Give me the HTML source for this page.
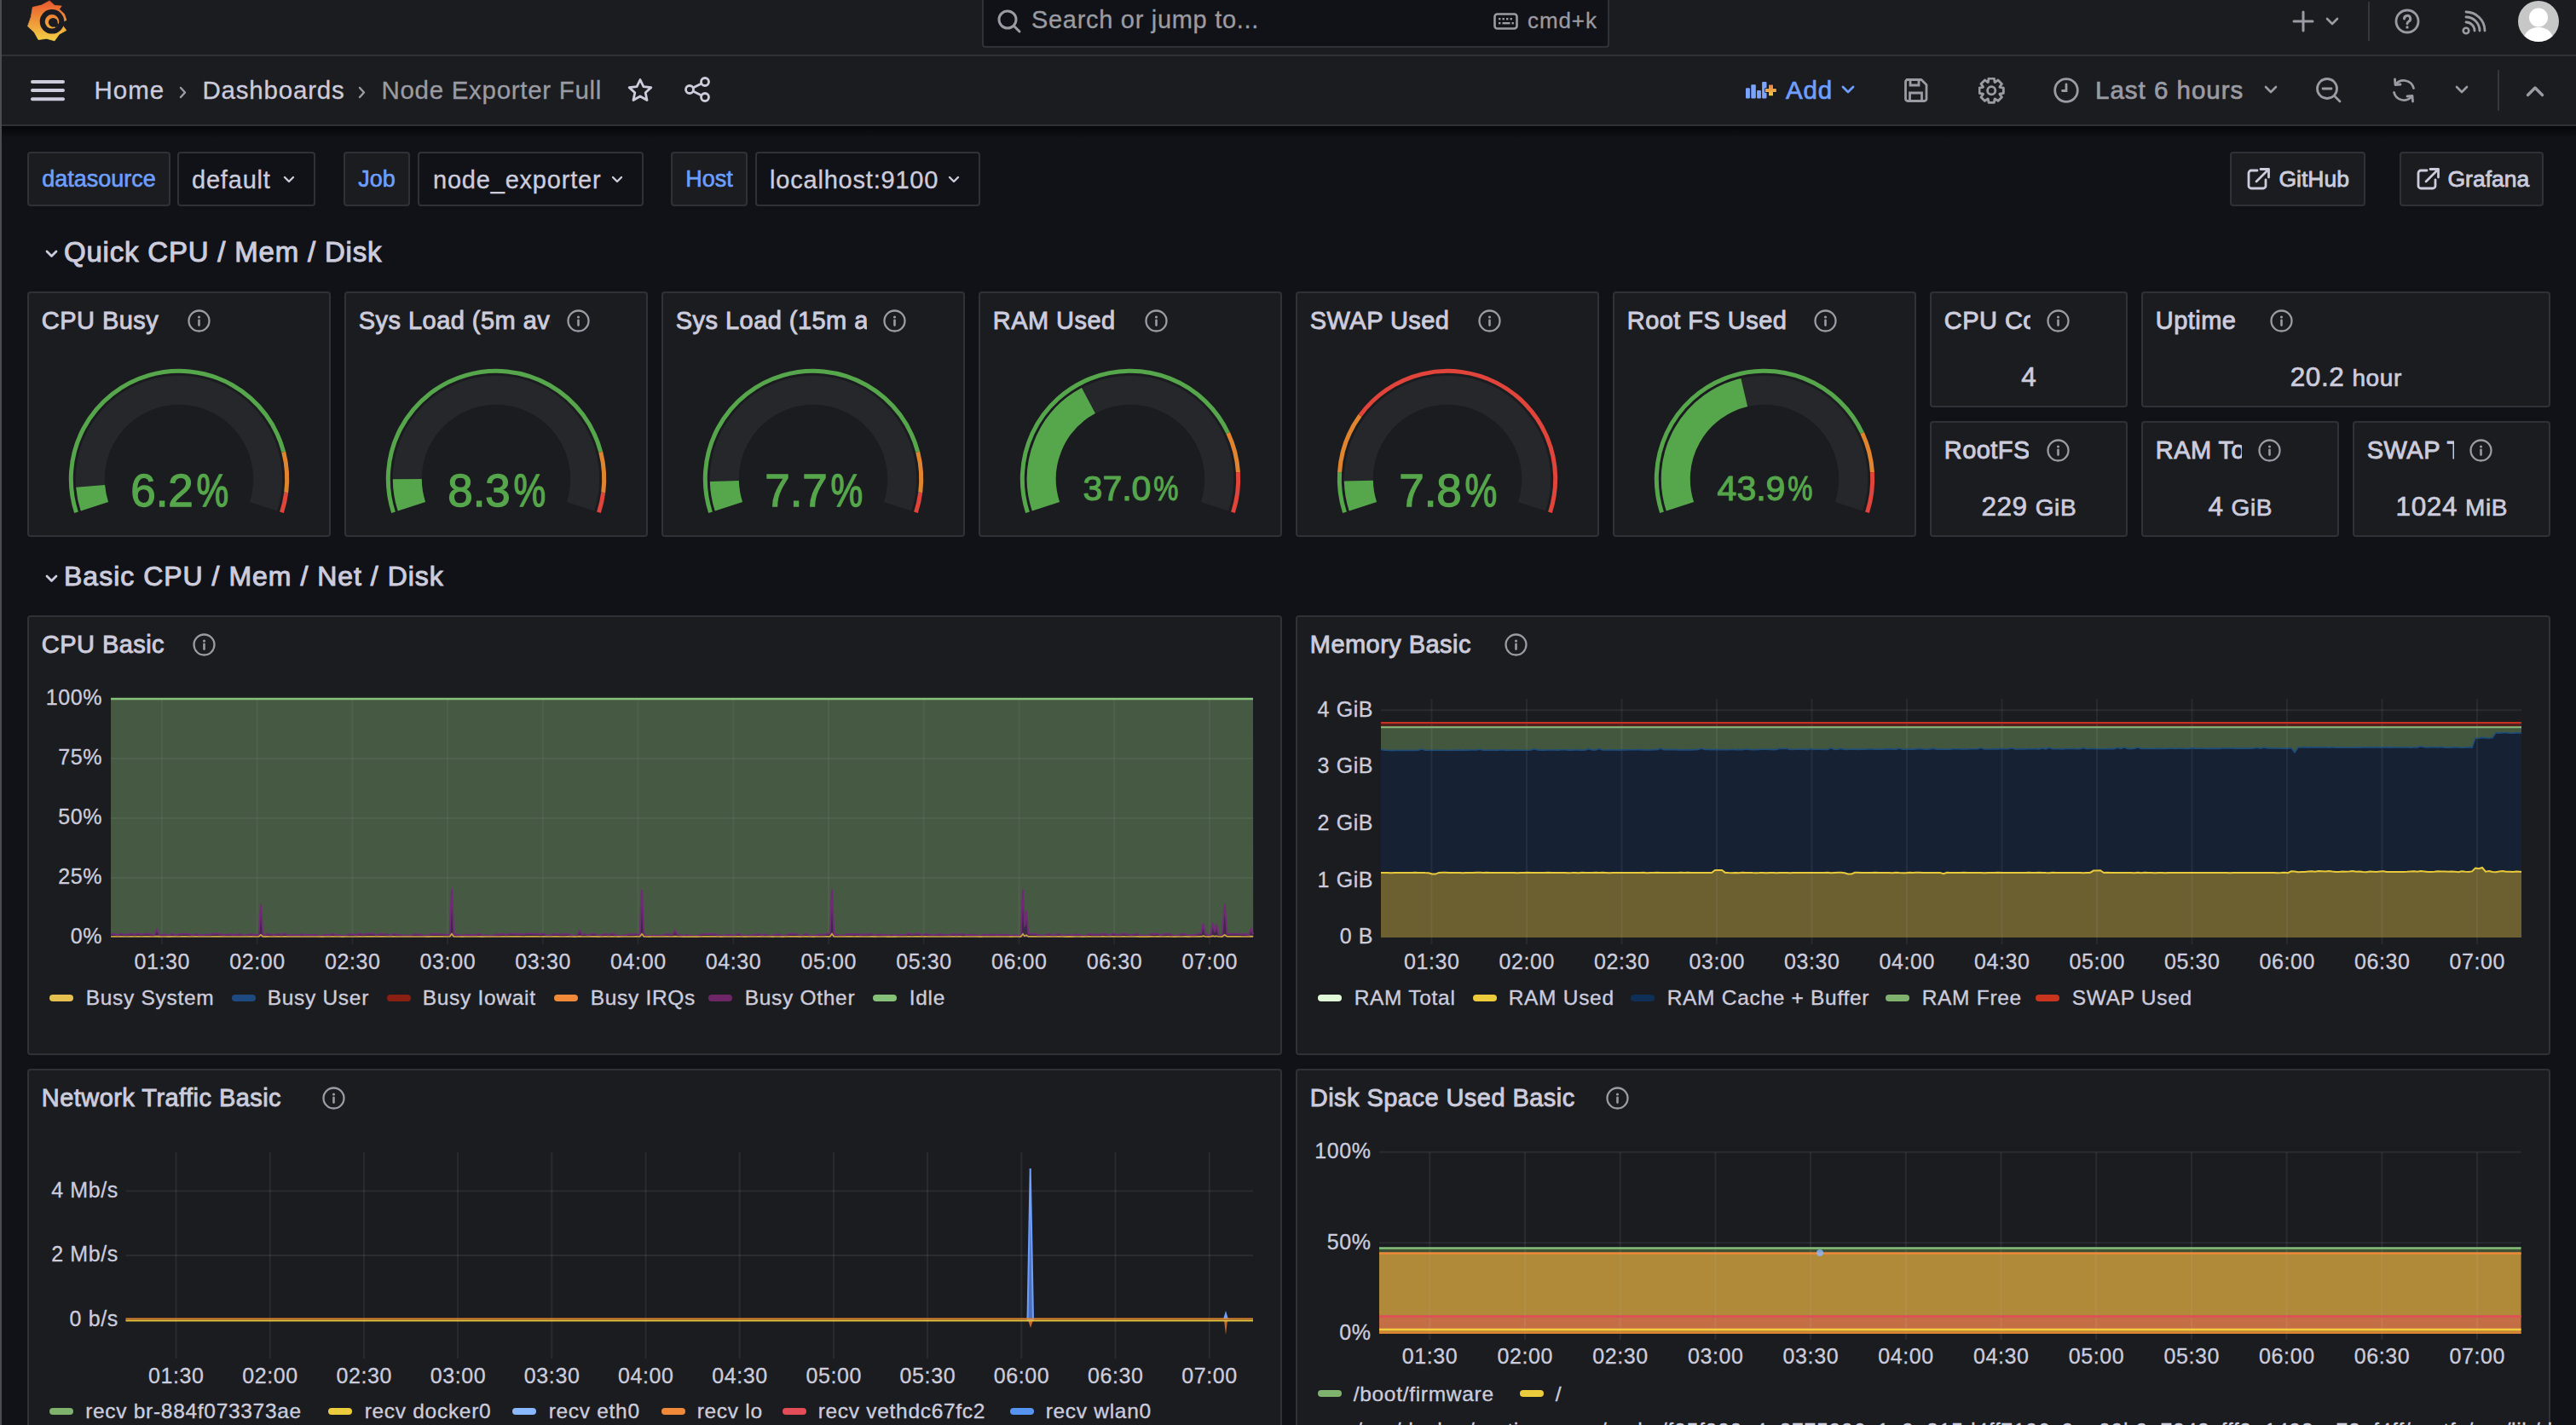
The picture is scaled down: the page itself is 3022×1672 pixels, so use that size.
<!DOCTYPE html>
<html><head><meta charset="utf-8"><title>Node Exporter Full - Dashboards - Grafana</title>
<style>
html,body{margin:0;padding:0;width:3022px;height:1672px;overflow:hidden;background:#111217;}
body{position:relative;font-family:"Liberation Sans", sans-serif;}
</style></head><body>
<div style="position:absolute;left:0px;top:0px;width:3022px;height:1672px;background:#111217;box-sizing:border-box;"></div><div style="position:absolute;left:0px;top:0px;width:3022px;height:64px;background:#1b1c20;box-sizing:border-box;"></div><div style="position:absolute;left:0px;top:64px;width:3022px;height:2px;background:#2f3136;box-sizing:border-box;"></div><div style="position:absolute;left:0px;top:66px;width:3022px;height:80px;background:#1b1c20;box-sizing:border-box;"></div><div style="position:absolute;left:0px;top:146px;width:3022px;height:2px;background:#2f3136;box-sizing:border-box;"></div><div style="position:absolute;left:0px;top:148px;width:3022px;height:14px;background:transparent;box-sizing:border-box;background:linear-gradient(#050608,rgba(17,18,23,0));"></div><svg style="position:absolute;left:0px;top:0px;" width="120" height="64" viewBox="0 0 120 64"><defs><linearGradient id="lg" x1="0" y1="0" x2="0" y2="1"><stop offset="0" stop-color="#e9582f"/><stop offset="0.55" stop-color="#ef9a3a"/><stop offset="1" stop-color="#f4cf45"/></linearGradient></defs>
<path d="M38.30,8.50 L48.73,6.05 L58.11,0.89 L64.09,6.38 L72.19,7.02 L69.50,10.80 L75.50,16.50 L77.90,23.60 L75.00,25.00 L72.50,28.50 L75.50,32.50 L77.75,35.61 L69.49,40.17 L64.00,47.84 L54.64,45.25 L45.01,46.56 L40.11,37.64 L32.52,30.85 L36.35,19.92Z" fill="url(#lg)" stroke="url(#lg)" stroke-width="0.8" stroke-linejoin="round"/>
<circle cx="61" cy="25.3" r="11.3" fill="none" stroke="#1b1c21" stroke-width="6"/>
<circle cx="62.3" cy="26.3" r="5.4" fill="#1b1c21"/>
<path d="M67.28,27.34 A6.6,6.6 0 0 1 64.10,31.13" fill="none" stroke="#1b1c21" stroke-width="3.6"/></svg><div style="position:absolute;left:1152px;top:-10px;width:736px;height:66px;background:#111217;box-sizing:border-box;border:2px solid #2f3136;border-radius:4px;"></div><svg style="position:absolute;left:1169px;top:10.5px;" width="30" height="30" viewBox="0 0 30 30"><circle cx="13" cy="12" r="10" fill="none" stroke="#9a9ba3" stroke-width="3"/><line x1="20.5" y1="19.5" x2="27" y2="26" stroke="#9a9ba3" stroke-width="3" stroke-linecap="round"/></svg><div style="position:absolute;top:9.45px;font-size:29px;line-height:29px;color:#9a9ba3;white-space:nowrap;-webkit-text-stroke:0.3px #9a9ba3;letter-spacing:0.7px;left:1210.00px;">Search or jump to...</div><svg style="position:absolute;left:1752px;top:15px;" width="30" height="21" viewBox="0 0 30 21"><rect x="1.5" y="1.5" width="26" height="17" rx="3" fill="none" stroke="#9a9ba3" stroke-width="2.6"/><rect x="6.0" y="6" width="2.4" height="2.4" fill="#9a9ba3"/><rect x="10.5" y="6" width="2.4" height="2.4" fill="#9a9ba3"/><rect x="15.0" y="6" width="2.4" height="2.4" fill="#9a9ba3"/><rect x="19.5" y="6" width="2.4" height="2.4" fill="#9a9ba3"/><rect x="6" y="11" width="2.4" height="2.4" fill="#9a9ba3"/><rect x="10.5" y="11" width="9" height="2.4" fill="#9a9ba3"/><rect x="21.5" y="11" width="2.4" height="2.4" fill="#9a9ba3"/></svg><div style="position:absolute;top:10.99px;font-size:26px;line-height:26px;color:#9a9ba3;white-space:nowrap;-webkit-text-stroke:0.3px #9a9ba3;letter-spacing:0.9px;left:1792.00px;">cmd+k</div><svg style="position:absolute;left:2689px;top:12px;" width="26" height="26" viewBox="0 0 26 26"><line x1="13" y1="2" x2="13" y2="24" stroke="#9a9ba3" stroke-width="3" stroke-linecap="round"/><line x1="2" y1="13" x2="24" y2="13" stroke="#9a9ba3" stroke-width="3" stroke-linecap="round"/></svg><svg style="position:absolute;left:2728px;top:20px;" width="16" height="11" viewBox="0 0 16 11"><polyline points="2,2 8,8 14,2" fill="none" stroke="#9a9ba3" stroke-width="2.6" stroke-linecap="round" stroke-linejoin="round"/></svg><div style="position:absolute;left:2778px;top:2px;width:2px;height:46px;background:#34363b;box-sizing:border-box;"></div><svg style="position:absolute;left:2809px;top:10px;" width="30" height="30" viewBox="0 0 30 30"><circle cx="15" cy="15" r="13" fill="none" stroke="#9a9ba3" stroke-width="2.8"/><path d="M11.5,12 a3.6,3.6 0 1 1 5.2,3.2 c-1.1,0.6 -1.7,1.2 -1.7,2.6" fill="none" stroke="#9a9ba3" stroke-width="3" stroke-linecap="round"/><circle cx="15" cy="22" r="1.7" fill="#9a9ba3"/></svg><svg style="position:absolute;left:2880px;top:10px;" width="40" height="34" viewBox="0 0 40 34"><circle cx="13" cy="26" r="3.3" fill="none" stroke="#9a9ba3" stroke-width="2.6"/><path d="M13,16 A10,10 0 0 1 23,26" fill="none" stroke="#9a9ba3" stroke-width="2.8" stroke-linecap="round"/><path d="M13,10 A16,16 0 0 1 29,26" fill="none" stroke="#9a9ba3" stroke-width="2.8" stroke-linecap="round"/><path d="M13,4 A22,22 0 0 1 35,26" fill="none" stroke="#9a9ba3" stroke-width="2.8" stroke-linecap="round"/></svg><svg style="position:absolute;left:2954px;top:1px;" width="48" height="48" viewBox="0 0 48 48"><clipPath id="avc"><circle cx="24" cy="24" r="24"/></clipPath><g clip-path="url(#avc)"><rect width="48" height="48" fill="#c7c7c7"/><circle cx="24" cy="19.5" r="11" fill="#fff"/><ellipse cx="24" cy="45" rx="17" ry="14" fill="#fff"/></g></svg><svg style="position:absolute;left:36px;top:94px;" width="40" height="25" viewBox="0 0 40 25"><line x1="2" y1="2.0" x2="38" y2="2.0" stroke="#ccccdc" stroke-width="4" stroke-linecap="round"/><line x1="2" y1="12.1" x2="38" y2="12.1" stroke="#ccccdc" stroke-width="4" stroke-linecap="round"/><line x1="2" y1="22.2" x2="38" y2="22.2" stroke="#ccccdc" stroke-width="4" stroke-linecap="round"/></svg><div style="position:absolute;top:91.03px;font-size:29.5px;line-height:29.5px;color:#ccccdc;white-space:nowrap;-webkit-text-stroke:0.3px #ccccdc;letter-spacing:1.0px;left:110.50px;">Home</div><svg style="position:absolute;left:210px;top:100.5px;" width="10" height="16" viewBox="0 0 10 16"><polyline points="2,2 7,7.5 2,13" fill="none" stroke="#9a9ba3" stroke-width="2.4" stroke-linecap="round" stroke-linejoin="round"/></svg><div style="position:absolute;top:91.03px;font-size:29.5px;line-height:29.5px;color:#ccccdc;white-space:nowrap;-webkit-text-stroke:0.3px #ccccdc;letter-spacing:0.8px;left:237.50px;">Dashboards</div><svg style="position:absolute;left:420px;top:100.5px;" width="10" height="16" viewBox="0 0 10 16"><polyline points="2,2 7,7.5 2,13" fill="none" stroke="#9a9ba3" stroke-width="2.4" stroke-linecap="round" stroke-linejoin="round"/></svg><div style="position:absolute;top:91.03px;font-size:29.5px;line-height:29.5px;color:#9a9ba3;white-space:nowrap;-webkit-text-stroke:0.3px #9a9ba3;letter-spacing:0.7px;left:447.50px;">Node Exporter Full</div><svg style="position:absolute;left:735px;top:91px;" width="32" height="30" viewBox="0 0 32 30"><polygon points="16,2.5 19.9,10.6 28.8,11.6 22.2,17.7 24,26.5 16,22 8,26.5 9.8,17.7 3.2,11.6 12.1,10.6" fill="none" stroke="#ccccdc" stroke-width="2.8" stroke-linejoin="round"/></svg><svg style="position:absolute;left:803px;top:90px;" width="32" height="32" viewBox="0 0 32 32"><circle cx="24" cy="6" r="4.5" fill="none" stroke="#ccccdc" stroke-width="2.8"/><circle cx="6" cy="15" r="4.5" fill="none" stroke="#ccccdc" stroke-width="2.8"/><circle cx="24" cy="24" r="4.5" fill="none" stroke="#ccccdc" stroke-width="2.8"/><line x1="10" y1="13" x2="20" y2="8" stroke="#ccccdc" stroke-width="2.8"/><line x1="10" y1="17" x2="20" y2="22" stroke="#ccccdc" stroke-width="2.8"/></svg><svg style="position:absolute;left:2048px;top:96px;" width="37" height="21" viewBox="0 0 37 21"><defs><linearGradient id="pg" x1="0" y1="0" x2="0" y2="1"><stop offset="0" stop-color="#e6804a"/><stop offset="1" stop-color="#f4c93f"/></linearGradient></defs><rect x="0" y="7.3" width="4.9" height="12.3" rx="1" fill="#7aa4ff"/><rect x="6.3" y="3.2" width="5.5" height="16.4" rx="1" fill="#7aa4ff"/><rect x="13.1" y="10.1" width="4.8" height="9.5" rx="1" fill="#7aa4ff"/><rect x="19.1" y="0.1" width="5.4" height="19.5" rx="1" fill="#7aa4ff"/><path d="M27,3.4 h5 v4.5 h3.8 v4.1 h-3.8 v4.2 h-5 v-4.2 h-4 v-4.1 h4 z" fill="url(#pg)" stroke="#111217" stroke-width="1.4" paint-order="stroke"/></svg><div style="position:absolute;top:91.03px;font-size:29.5px;line-height:29.5px;color:#6e9fff;white-space:nowrap;-webkit-text-stroke:0.7px #6e9fff;letter-spacing:0.8px;left:2095.00px;">Add</div><svg style="position:absolute;left:2160px;top:100px;" width="17" height="12" viewBox="0 0 17 12"><polyline points="2,2 8,8 14,2" fill="none" stroke="#6e9fff" stroke-width="2.8" stroke-linecap="round" stroke-linejoin="round"/></svg><svg style="position:absolute;left:2234px;top:92px;" width="28" height="28" viewBox="0 0 28 28"><path d="M3,1.5 H20 L26,7.5 V24 a2.5,2.5 0 0 1 -2.5,2.5 H4 a2.5,2.5 0 0 1 -2.5,-2.5 V4 a2.5,2.5 0 0 1 2.5,-2.5 Z" fill="none" stroke="#9a9ba3" stroke-width="2.8" stroke-linejoin="round"/><path d="M7,1.5 V8 H17 V1.5" fill="none" stroke="#9a9ba3" stroke-width="2.8"/><path d="M6.5,26 V17 H20.5 V26" fill="none" stroke="#9a9ba3" stroke-width="2.8"/></svg><svg style="position:absolute;left:2321px;top:91px;" width="31" height="31" viewBox="0 0 31 31"><path d="M29.35,12.04 L29.35,18.36 L24.95,19.09 L24.85,19.34 L27.44,22.97 L22.97,27.44 L19.34,24.85 L19.09,24.95 L18.36,29.35 L12.04,29.35 L11.31,24.95 L11.06,24.85 L7.43,27.44 L2.96,22.97 L5.55,19.34 L5.45,19.09 L1.05,18.36 L1.05,12.04 L5.45,11.31 L5.55,11.06 L2.96,7.43 L7.43,2.96 L11.06,5.55 L11.31,5.45 L12.04,1.05 L18.36,1.05 L19.09,5.45 L19.34,5.55 L22.97,2.96 L27.44,7.43 L24.85,11.06 L24.95,11.31Z" fill="none" stroke="#9a9ba3" stroke-width="2.8" stroke-linejoin="round"/><circle cx="15.2" cy="15.2" r="4.6" fill="none" stroke="#9a9ba3" stroke-width="2.8"/></svg><svg style="position:absolute;left:2409px;top:91px;" width="30" height="30" viewBox="0 0 30 30"><circle cx="15" cy="15" r="13.3" fill="none" stroke="#9a9ba3" stroke-width="2.8"/><polyline points="15,8 15,15.5 10.5,15.5" fill="none" stroke="#9a9ba3" stroke-width="2.8" stroke-linecap="round"/></svg><div style="position:absolute;top:91.03px;font-size:29.5px;line-height:29.5px;color:#9a9ba3;white-space:nowrap;-webkit-text-stroke:0.7px #9a9ba3;letter-spacing:1.0px;left:2458.00px;">Last 6 hours</div><svg style="position:absolute;left:2656px;top:100px;" width="17" height="12" viewBox="0 0 17 12"><polyline points="2,2 8,8 14,2" fill="none" stroke="#9a9ba3" stroke-width="2.6" stroke-linecap="round" stroke-linejoin="round"/></svg><svg style="position:absolute;left:2717px;top:91px;" width="30" height="30" viewBox="0 0 30 30"><circle cx="13" cy="13" r="11.5" fill="none" stroke="#9a9ba3" stroke-width="2.8"/><line x1="8" y1="13" x2="18" y2="13" stroke="#9a9ba3" stroke-width="2.8" stroke-linecap="round"/><line x1="21.5" y1="21.5" x2="28" y2="28" stroke="#9a9ba3" stroke-width="2.8" stroke-linecap="round"/></svg><svg style="position:absolute;left:2805px;top:91px;" width="30" height="30" viewBox="0 0 30 30"><path d="M26.5,12.5 A12,12 0 0 0 5.5,8" fill="none" stroke="#9a9ba3" stroke-width="2.8" stroke-linecap="round"/><polyline points="4.5,2 5,8.5 11,8" fill="none" stroke="#9a9ba3" stroke-width="2.8" stroke-linecap="round" stroke-linejoin="round"/><path d="M3.5,17.5 A12,12 0 0 0 24.5,22" fill="none" stroke="#9a9ba3" stroke-width="2.8" stroke-linecap="round"/><polyline points="25.5,28 25,21.5 19,22" fill="none" stroke="#9a9ba3" stroke-width="2.8" stroke-linecap="round" stroke-linejoin="round"/></svg><svg style="position:absolute;left:2880px;top:100px;" width="17" height="12" viewBox="0 0 17 12"><polyline points="2,2 8,8 14,2" fill="none" stroke="#9a9ba3" stroke-width="2.6" stroke-linecap="round" stroke-linejoin="round"/></svg><div style="position:absolute;left:2930px;top:82px;width:2px;height:48px;background:#34363b;box-sizing:border-box;"></div><svg style="position:absolute;left:2963px;top:100px;" width="22" height="15" viewBox="0 0 22 15"><polyline points="2.5,11.5 11,3 19.5,11.5" fill="none" stroke="#9a9ba3" stroke-width="3.4" stroke-linecap="round" stroke-linejoin="round"/></svg><div style="position:absolute;left:32px;top:178px;width:168px;height:64px;background:#1b1c20;box-sizing:border-box;border:2px solid #2f3136;border-radius:4px;"></div><div style="position:absolute;top:197.14px;font-size:27px;line-height:27px;color:#6e9fff;white-space:nowrap;-webkit-text-stroke:0.6px #6e9fff;left:-884.00px;width:2000px;text-align:center;">datasource</div><div style="position:absolute;left:208px;top:178px;width:162px;height:64px;background:#111217;box-sizing:border-box;border:2px solid #2f3136;border-radius:4px;"></div><div style="position:absolute;top:196.95px;font-size:29px;line-height:29px;color:#ccccdc;white-space:nowrap;-webkit-text-stroke:0.35px #ccccdc;letter-spacing:0.8px;left:225.00px;">default</div><svg style="position:absolute;left:332px;top:205.5px" width="14" height="10" viewBox="0 0 14 10"><polyline points="2,2 7,7 12,2" fill="none" stroke="#ccccdc" stroke-width="2.4" stroke-linecap="round" stroke-linejoin="round"/></svg><div style="position:absolute;left:403px;top:178px;width:78px;height:64px;background:#1b1c20;box-sizing:border-box;border:2px solid #2f3136;border-radius:4px;"></div><div style="position:absolute;top:197.14px;font-size:27px;line-height:27px;color:#6e9fff;white-space:nowrap;-webkit-text-stroke:0.6px #6e9fff;left:-558.00px;width:2000px;text-align:center;">Job</div><div style="position:absolute;left:490px;top:178px;width:265px;height:64px;background:#111217;box-sizing:border-box;border:2px solid #2f3136;border-radius:4px;"></div><div style="position:absolute;top:196.95px;font-size:29px;line-height:29px;color:#ccccdc;white-space:nowrap;-webkit-text-stroke:0.35px #ccccdc;letter-spacing:0.8px;left:508.00px;">node_exporter</div><svg style="position:absolute;left:717px;top:205.5px" width="14" height="10" viewBox="0 0 14 10"><polyline points="2,2 7,7 12,2" fill="none" stroke="#ccccdc" stroke-width="2.4" stroke-linecap="round" stroke-linejoin="round"/></svg><div style="position:absolute;left:787px;top:178px;width:90px;height:64px;background:#1b1c20;box-sizing:border-box;border:2px solid #2f3136;border-radius:4px;"></div><div style="position:absolute;top:197.14px;font-size:27px;line-height:27px;color:#6e9fff;white-space:nowrap;-webkit-text-stroke:0.6px #6e9fff;left:-168.00px;width:2000px;text-align:center;">Host</div><div style="position:absolute;left:886px;top:178px;width:264px;height:64px;background:#111217;box-sizing:border-box;border:2px solid #2f3136;border-radius:4px;"></div><div style="position:absolute;top:196.95px;font-size:29px;line-height:29px;color:#ccccdc;white-space:nowrap;-webkit-text-stroke:0.35px #ccccdc;letter-spacing:0.8px;left:903.00px;">localhost:9100</div><svg style="position:absolute;left:1112px;top:205.5px" width="14" height="10" viewBox="0 0 14 10"><polyline points="2,2 7,7 12,2" fill="none" stroke="#ccccdc" stroke-width="2.4" stroke-linecap="round" stroke-linejoin="round"/></svg><div style="position:absolute;left:2616px;top:178px;width:159px;height:64px;background:#1b1c20;box-sizing:border-box;border:2px solid #2f3136;border-radius:4px;"></div><svg style="position:absolute;left:2636px;top:196px;" width="28" height="28" viewBox="0 0 28 28"><path d="M12,4 H5 a3,3 0 0 0 -3,3 V22 a3,3 0 0 0 3,3 H19 a3,3 0 0 0 3,-3 V15" fill="none" stroke="#ccccdc" stroke-width="2.8" stroke-linecap="round"/><polyline points="16,2.5 25.5,2.5 25.5,12" fill="none" stroke="#ccccdc" stroke-width="2.8" stroke-linecap="round" stroke-linejoin="round"/><line x1="25" y1="3" x2="11" y2="17" stroke="#ccccdc" stroke-width="2.8" stroke-linecap="round"/></svg><div style="position:absolute;top:197.07px;font-size:26.5px;line-height:26.5px;color:#ccccdc;white-space:nowrap;-webkit-text-stroke:0.8px #ccccdc;left:2673.50px;">GitHub</div><div style="position:absolute;left:2815px;top:178px;width:169px;height:64px;background:#1b1c20;box-sizing:border-box;border:2px solid #2f3136;border-radius:4px;"></div><svg style="position:absolute;left:2835px;top:196px;" width="28" height="28" viewBox="0 0 28 28"><path d="M12,4 H5 a3,3 0 0 0 -3,3 V22 a3,3 0 0 0 3,3 H19 a3,3 0 0 0 3,-3 V15" fill="none" stroke="#ccccdc" stroke-width="2.8" stroke-linecap="round"/><polyline points="16,2.5 25.5,2.5 25.5,12" fill="none" stroke="#ccccdc" stroke-width="2.8" stroke-linecap="round" stroke-linejoin="round"/><line x1="25" y1="3" x2="11" y2="17" stroke="#ccccdc" stroke-width="2.8" stroke-linecap="round"/></svg><div style="position:absolute;top:197.07px;font-size:26.5px;line-height:26.5px;color:#ccccdc;white-space:nowrap;-webkit-text-stroke:0.8px #ccccdc;left:2871.50px;">Grafana</div><svg style="position:absolute;left:52.5px;top:293px;" width="15" height="10" viewBox="0 0 15 10"><polyline points="2,2 7.5,7.5 13,2" fill="none" stroke="#ccccdc" stroke-width="2.8" stroke-linecap="round" stroke-linejoin="round"/></svg><div style="position:absolute;top:278.87px;font-size:33px;line-height:33px;color:#ccccdc;white-space:nowrap;-webkit-text-stroke:1.0px #ccccdc;letter-spacing:0.8px;left:75.00px;">Quick CPU / Mem / Disk</div><svg style="position:absolute;left:52.5px;top:673.5px;" width="15" height="10" viewBox="0 0 15 10"><polyline points="2,2 7.5,7.5 13,2" fill="none" stroke="#ccccdc" stroke-width="2.8" stroke-linecap="round" stroke-linejoin="round"/></svg><div style="position:absolute;top:659.91px;font-size:32px;line-height:32px;color:#ccccdc;white-space:nowrap;-webkit-text-stroke:1.0px #ccccdc;letter-spacing:1.0px;left:75.00px;">Basic CPU / Mem / Net / Disk</div><div style="position:absolute;left:32px;top:342px;width:356px;height:288px;background:#1b1c20;box-sizing:border-box;border:2px solid #303136;border-radius:4px;"></div><div style="position:absolute;top:362.45px;font-size:29px;line-height:29px;color:#ccccdc;white-space:nowrap;-webkit-text-stroke:0.9px #ccccdc;letter-spacing:0.45px;left:48.80px;">CPU Busy</div><svg style="position:absolute;left:220px;top:363px;" width="27" height="27" viewBox="0 0 27 27"><circle cx="13.5" cy="13.5" r="12" fill="none" stroke="#9a9ba3" stroke-width="2.3"/><circle cx="13.5" cy="9" r="1.6" fill="#9a9ba3"/><line x1="13.5" y1="12.8" x2="13.5" y2="18.6" stroke="#9a9ba3" stroke-width="2.6" stroke-linecap="round"/></svg><svg style="position:absolute;left:32px;top:400px;" width="356" height="230" viewBox="0 0 356 230"><path d="M57.50,201.15 A126.7,126.7 0 1 1 300.72,130.49" fill="none" stroke="#56a64b" stroke-width="5"/><path d="M300.72,130.49 A126.7,126.7 0 0 1 303.70,177.88" fill="none" stroke="#e0852e" stroke-width="5"/><path d="M303.70,177.88 A126.7,126.7 0 0 1 298.50,201.15" fill="none" stroke="#e0443a" stroke-width="5"/><path d="M78.90,194.20 A104.2,104.2 0 1 1 277.10,194.20" fill="none" stroke="#26272b" stroke-width="34"/><path d="M78.90,194.20 A104.2,104.2 0 0 1 74.14,170.37" fill="none" stroke="#56a64b" stroke-width="34"/></svg><div style="position:absolute;top:549.14px;font-size:53px;line-height:53px;color:#56a64b;white-space:nowrap;-webkit-text-stroke:1.3px #56a64b;left:-790.00px;width:2000px;text-align:center;">6.2<span style="display:inline-block;width:40px;text-indent:2px"><span style="display:inline-block;transform:scaleX(0.8);transform-origin:left">%</span></span></div><div style="position:absolute;left:404px;top:342px;width:356px;height:288px;background:#1b1c20;box-sizing:border-box;border:2px solid #303136;border-radius:4px;"></div><div style="position:absolute;left:421px;top:342px;width:225px;height:60px;overflow:hidden"><div style="position:absolute;top:20.45px;font-size:29px;line-height:29px;color:#ccccdc;white-space:nowrap;-webkit-text-stroke:0.9px #ccccdc;letter-spacing:0.45px;left:-0.20px;">Sys Load (5m avg)</div></div><svg style="position:absolute;left:665px;top:363px;" width="27" height="27" viewBox="0 0 27 27"><circle cx="13.5" cy="13.5" r="12" fill="none" stroke="#9a9ba3" stroke-width="2.3"/><circle cx="13.5" cy="9" r="1.6" fill="#9a9ba3"/><line x1="13.5" y1="12.8" x2="13.5" y2="18.6" stroke="#9a9ba3" stroke-width="2.6" stroke-linecap="round"/></svg><svg style="position:absolute;left:404px;top:400px;" width="356" height="230" viewBox="0 0 356 230"><path d="M57.50,201.15 A126.7,126.7 0 1 1 300.72,130.49" fill="none" stroke="#56a64b" stroke-width="5"/><path d="M300.72,130.49 A126.7,126.7 0 0 1 303.70,177.88" fill="none" stroke="#e0852e" stroke-width="5"/><path d="M303.70,177.88 A126.7,126.7 0 0 1 298.50,201.15" fill="none" stroke="#e0443a" stroke-width="5"/><path d="M78.90,194.20 A104.2,104.2 0 1 1 277.10,194.20" fill="none" stroke="#26272b" stroke-width="34"/><path d="M78.90,194.20 A104.2,104.2 0 0 1 73.80,162.13" fill="none" stroke="#56a64b" stroke-width="34"/></svg><div style="position:absolute;top:549.14px;font-size:53px;line-height:53px;color:#56a64b;white-space:nowrap;-webkit-text-stroke:1.3px #56a64b;left:-418.00px;width:2000px;text-align:center;">8.3<span style="display:inline-block;width:40px;text-indent:2px"><span style="display:inline-block;transform:scaleX(0.8);transform-origin:left">%</span></span></div><div style="position:absolute;left:776px;top:342px;width:356px;height:288px;background:#1b1c20;box-sizing:border-box;border:2px solid #303136;border-radius:4px;"></div><div style="position:absolute;left:793px;top:342px;width:224px;height:60px;overflow:hidden"><div style="position:absolute;top:20.45px;font-size:29px;line-height:29px;color:#ccccdc;white-space:nowrap;-webkit-text-stroke:0.9px #ccccdc;letter-spacing:0.45px;left:-0.20px;">Sys Load (15m avg)</div></div><svg style="position:absolute;left:1036px;top:363px;" width="27" height="27" viewBox="0 0 27 27"><circle cx="13.5" cy="13.5" r="12" fill="none" stroke="#9a9ba3" stroke-width="2.3"/><circle cx="13.5" cy="9" r="1.6" fill="#9a9ba3"/><line x1="13.5" y1="12.8" x2="13.5" y2="18.6" stroke="#9a9ba3" stroke-width="2.6" stroke-linecap="round"/></svg><svg style="position:absolute;left:776px;top:400px;" width="356" height="230" viewBox="0 0 356 230"><path d="M57.50,201.15 A126.7,126.7 0 1 1 300.72,130.49" fill="none" stroke="#56a64b" stroke-width="5"/><path d="M300.72,130.49 A126.7,126.7 0 0 1 303.70,177.88" fill="none" stroke="#e0852e" stroke-width="5"/><path d="M303.70,177.88 A126.7,126.7 0 0 1 298.50,201.15" fill="none" stroke="#e0443a" stroke-width="5"/><path d="M78.90,194.20 A104.2,104.2 0 1 1 277.10,194.20" fill="none" stroke="#26272b" stroke-width="34"/><path d="M78.90,194.20 A104.2,104.2 0 0 1 73.83,164.49" fill="none" stroke="#56a64b" stroke-width="34"/></svg><div style="position:absolute;top:549.14px;font-size:53px;line-height:53px;color:#56a64b;white-space:nowrap;-webkit-text-stroke:1.3px #56a64b;left:-46.00px;width:2000px;text-align:center;">7.7<span style="display:inline-block;width:40px;text-indent:2px"><span style="display:inline-block;transform:scaleX(0.8);transform-origin:left">%</span></span></div><div style="position:absolute;left:1148px;top:342px;width:356px;height:288px;background:#1b1c20;box-sizing:border-box;border:2px solid #303136;border-radius:4px;"></div><div style="position:absolute;top:362.45px;font-size:29px;line-height:29px;color:#ccccdc;white-space:nowrap;-webkit-text-stroke:0.9px #ccccdc;letter-spacing:0.45px;left:1164.80px;">RAM Used</div><svg style="position:absolute;left:1343px;top:363px;" width="27" height="27" viewBox="0 0 27 27"><circle cx="13.5" cy="13.5" r="12" fill="none" stroke="#9a9ba3" stroke-width="2.3"/><circle cx="13.5" cy="9" r="1.6" fill="#9a9ba3"/><line x1="13.5" y1="12.8" x2="13.5" y2="18.6" stroke="#9a9ba3" stroke-width="2.6" stroke-linecap="round"/></svg><svg style="position:absolute;left:1148px;top:400px;" width="356" height="230" viewBox="0 0 356 230"><path d="M57.50,201.15 A126.7,126.7 0 0 1 292.64,108.05" fill="none" stroke="#56a64b" stroke-width="5"/><path d="M292.64,108.05 A126.7,126.7 0 0 1 304.45,154.04" fill="none" stroke="#e0852e" stroke-width="5"/><path d="M304.45,154.04 A126.7,126.7 0 0 1 298.50,201.15" fill="none" stroke="#e0443a" stroke-width="5"/><path d="M78.90,194.20 A104.2,104.2 0 1 1 277.10,194.20" fill="none" stroke="#26272b" stroke-width="34"/><path d="M78.90,194.20 A104.2,104.2 0 0 1 128.95,70.07" fill="none" stroke="#56a64b" stroke-width="34"/></svg><div style="position:absolute;top:552.79px;font-size:41px;line-height:41px;color:#56a64b;white-space:nowrap;-webkit-text-stroke:1.1px #56a64b;left:326.00px;width:2000px;text-align:center;">37.0<span style="display:inline-block;width:31px;text-indent:1.5px"><span style="display:inline-block;transform:scaleX(0.8);transform-origin:left">%</span></span></div><div style="position:absolute;left:1520px;top:342px;width:356px;height:288px;background:#1b1c20;box-sizing:border-box;border:2px solid #303136;border-radius:4px;"></div><div style="position:absolute;top:362.45px;font-size:29px;line-height:29px;color:#ccccdc;white-space:nowrap;-webkit-text-stroke:0.9px #ccccdc;letter-spacing:0.45px;left:1536.80px;">SWAP Used</div><svg style="position:absolute;left:1734px;top:363px;" width="27" height="27" viewBox="0 0 27 27"><circle cx="13.5" cy="13.5" r="12" fill="none" stroke="#9a9ba3" stroke-width="2.3"/><circle cx="13.5" cy="9" r="1.6" fill="#9a9ba3"/><line x1="13.5" y1="12.8" x2="13.5" y2="18.6" stroke="#9a9ba3" stroke-width="2.6" stroke-linecap="round"/></svg><svg style="position:absolute;left:1520px;top:400px;" width="356" height="230" viewBox="0 0 356 230"><path d="M57.50,201.15 A126.7,126.7 0 0 1 51.55,154.04" fill="none" stroke="#56a64b" stroke-width="5"/><path d="M51.55,154.04 A126.7,126.7 0 0 1 75.50,87.53" fill="none" stroke="#e0852e" stroke-width="5"/><path d="M75.50,87.53 A126.7,126.7 0 0 1 298.50,201.15" fill="none" stroke="#e0443a" stroke-width="5"/><path d="M78.90,194.20 A104.2,104.2 0 1 1 277.10,194.20" fill="none" stroke="#26272b" stroke-width="34"/><path d="M78.90,194.20 A104.2,104.2 0 0 1 73.82,164.09" fill="none" stroke="#56a64b" stroke-width="34"/></svg><div style="position:absolute;top:549.14px;font-size:53px;line-height:53px;color:#56a64b;white-space:nowrap;-webkit-text-stroke:1.3px #56a64b;left:698.00px;width:2000px;text-align:center;">7.8<span style="display:inline-block;width:40px;text-indent:2px"><span style="display:inline-block;transform:scaleX(0.8);transform-origin:left">%</span></span></div><div style="position:absolute;left:1892px;top:342px;width:356px;height:288px;background:#1b1c20;box-sizing:border-box;border:2px solid #303136;border-radius:4px;"></div><div style="position:absolute;top:362.45px;font-size:29px;line-height:29px;color:#ccccdc;white-space:nowrap;-webkit-text-stroke:0.9px #ccccdc;letter-spacing:0.45px;left:1908.80px;">Root FS Used</div><svg style="position:absolute;left:2128px;top:363px;" width="27" height="27" viewBox="0 0 27 27"><circle cx="13.5" cy="13.5" r="12" fill="none" stroke="#9a9ba3" stroke-width="2.3"/><circle cx="13.5" cy="9" r="1.6" fill="#9a9ba3"/><line x1="13.5" y1="12.8" x2="13.5" y2="18.6" stroke="#9a9ba3" stroke-width="2.6" stroke-linecap="round"/></svg><svg style="position:absolute;left:1892px;top:400px;" width="356" height="230" viewBox="0 0 356 230"><path d="M57.50,201.15 A126.7,126.7 0 0 1 292.64,108.05" fill="none" stroke="#56a64b" stroke-width="5"/><path d="M292.64,108.05 A126.7,126.7 0 0 1 304.45,154.04" fill="none" stroke="#e0852e" stroke-width="5"/><path d="M304.45,154.04 A126.7,126.7 0 0 1 298.50,201.15" fill="none" stroke="#e0443a" stroke-width="5"/><path d="M78.90,194.20 A104.2,104.2 0 1 1 277.10,194.20" fill="none" stroke="#26272b" stroke-width="34"/><path d="M78.90,194.20 A104.2,104.2 0 0 1 154.25,60.54" fill="none" stroke="#56a64b" stroke-width="34"/></svg><div style="position:absolute;top:552.79px;font-size:41px;line-height:41px;color:#56a64b;white-space:nowrap;-webkit-text-stroke:1.1px #56a64b;left:1070.00px;width:2000px;text-align:center;">43.9<span style="display:inline-block;width:31px;text-indent:1.5px"><span style="display:inline-block;transform:scaleX(0.8);transform-origin:left">%</span></span></div><div style="position:absolute;left:2264px;top:342px;width:232px;height:136px;background:#1b1c20;box-sizing:border-box;border:2px solid #303136;border-radius:4px;"></div><div style="position:absolute;left:2281px;top:342px;width:101px;height:60px;overflow:hidden"><div style="position:absolute;top:20.45px;font-size:29px;line-height:29px;color:#ccccdc;white-space:nowrap;-webkit-text-stroke:0.9px #ccccdc;letter-spacing:0.45px;left:-0.20px;">CPU Cores</div></div><svg style="position:absolute;left:2401px;top:363px;" width="27" height="27" viewBox="0 0 27 27"><circle cx="13.5" cy="13.5" r="12" fill="none" stroke="#9a9ba3" stroke-width="2.3"/><circle cx="13.5" cy="9" r="1.6" fill="#9a9ba3"/><line x1="13.5" y1="12.8" x2="13.5" y2="18.6" stroke="#9a9ba3" stroke-width="2.6" stroke-linecap="round"/></svg><div style="position:absolute;top:427.14px;font-size:31.5px;line-height:31.5px;color:#ccccdc;white-space:nowrap;-webkit-text-stroke:0.7px #ccccdc;letter-spacing:0.6px;left:1380.30px;width:2000px;text-align:center;">4</div><div style="position:absolute;left:2512px;top:342px;width:480px;height:136px;background:#1b1c20;box-sizing:border-box;border:2px solid #303136;border-radius:4px;"></div><div style="position:absolute;top:362.45px;font-size:29px;line-height:29px;color:#ccccdc;white-space:nowrap;-webkit-text-stroke:0.9px #ccccdc;letter-spacing:0.45px;left:2528.80px;">Uptime</div><svg style="position:absolute;left:2663px;top:363px;" width="27" height="27" viewBox="0 0 27 27"><circle cx="13.5" cy="13.5" r="12" fill="none" stroke="#9a9ba3" stroke-width="2.3"/><circle cx="13.5" cy="9" r="1.6" fill="#9a9ba3"/><line x1="13.5" y1="12.8" x2="13.5" y2="18.6" stroke="#9a9ba3" stroke-width="2.6" stroke-linecap="round"/></svg><div style="position:absolute;top:427.14px;font-size:31.5px;line-height:31.5px;color:#ccccdc;white-space:nowrap;-webkit-text-stroke:0.7px #ccccdc;letter-spacing:0.6px;left:1752.30px;width:2000px;text-align:center;">20.2<span style="font-size:28px;margin-left:9px">hour</span></div><div style="position:absolute;left:2264px;top:494px;width:232px;height:136px;background:#1b1c20;box-sizing:border-box;border:2px solid #303136;border-radius:4px;"></div><div style="position:absolute;left:2281px;top:494px;width:99px;height:60px;overflow:hidden"><div style="position:absolute;top:20.45px;font-size:29px;line-height:29px;color:#ccccdc;white-space:nowrap;-webkit-text-stroke:0.9px #ccccdc;letter-spacing:0.45px;left:-0.20px;">RootFS Total</div></div><svg style="position:absolute;left:2401px;top:515px;" width="27" height="27" viewBox="0 0 27 27"><circle cx="13.5" cy="13.5" r="12" fill="none" stroke="#9a9ba3" stroke-width="2.3"/><circle cx="13.5" cy="9" r="1.6" fill="#9a9ba3"/><line x1="13.5" y1="12.8" x2="13.5" y2="18.6" stroke="#9a9ba3" stroke-width="2.6" stroke-linecap="round"/></svg><div style="position:absolute;top:579.14px;font-size:31.5px;line-height:31.5px;color:#ccccdc;white-space:nowrap;-webkit-text-stroke:0.7px #ccccdc;letter-spacing:0.6px;left:1380.30px;width:2000px;text-align:center;">229<span style="font-size:28px;margin-left:9px">GiB</span></div><div style="position:absolute;left:2512px;top:494px;width:232px;height:136px;background:#1b1c20;box-sizing:border-box;border:2px solid #303136;border-radius:4px;"></div><div style="position:absolute;left:2529px;top:494px;width:101px;height:60px;overflow:hidden"><div style="position:absolute;top:20.45px;font-size:29px;line-height:29px;color:#ccccdc;white-space:nowrap;-webkit-text-stroke:0.9px #ccccdc;letter-spacing:0.45px;left:-0.20px;">RAM Total</div></div><svg style="position:absolute;left:2649px;top:515px;" width="27" height="27" viewBox="0 0 27 27"><circle cx="13.5" cy="13.5" r="12" fill="none" stroke="#9a9ba3" stroke-width="2.3"/><circle cx="13.5" cy="9" r="1.6" fill="#9a9ba3"/><line x1="13.5" y1="12.8" x2="13.5" y2="18.6" stroke="#9a9ba3" stroke-width="2.6" stroke-linecap="round"/></svg><div style="position:absolute;top:579.14px;font-size:31.5px;line-height:31.5px;color:#ccccdc;white-space:nowrap;-webkit-text-stroke:0.7px #ccccdc;letter-spacing:0.6px;left:1628.30px;width:2000px;text-align:center;">4<span style="font-size:28px;margin-left:9px">GiB</span></div><div style="position:absolute;left:2760px;top:494px;width:232px;height:136px;background:#1b1c20;box-sizing:border-box;border:2px solid #303136;border-radius:4px;"></div><div style="position:absolute;left:2777px;top:494px;width:102px;height:60px;overflow:hidden"><div style="position:absolute;top:20.45px;font-size:29px;line-height:29px;color:#ccccdc;white-space:nowrap;-webkit-text-stroke:0.9px #ccccdc;letter-spacing:0.45px;left:-0.20px;">SWAP Total</div></div><svg style="position:absolute;left:2897px;top:515px;" width="27" height="27" viewBox="0 0 27 27"><circle cx="13.5" cy="13.5" r="12" fill="none" stroke="#9a9ba3" stroke-width="2.3"/><circle cx="13.5" cy="9" r="1.6" fill="#9a9ba3"/><line x1="13.5" y1="12.8" x2="13.5" y2="18.6" stroke="#9a9ba3" stroke-width="2.6" stroke-linecap="round"/></svg><div style="position:absolute;top:579.14px;font-size:31.5px;line-height:31.5px;color:#ccccdc;white-space:nowrap;-webkit-text-stroke:0.7px #ccccdc;letter-spacing:0.6px;left:1876.30px;width:2000px;text-align:center;">1024<span style="font-size:28px;margin-left:9px">MiB</span></div><div style="position:absolute;left:32px;top:722px;width:1472px;height:516px;background:#1b1c20;box-sizing:border-box;border:2px solid #303136;border-radius:4px;"></div><div style="position:absolute;top:742.45px;font-size:29px;line-height:29px;color:#ccccdc;white-space:nowrap;-webkit-text-stroke:0.9px #ccccdc;letter-spacing:0.45px;left:48.80px;">CPU Basic</div><svg style="position:absolute;left:226px;top:743px;" width="27" height="27" viewBox="0 0 27 27"><circle cx="13.5" cy="13.5" r="12" fill="none" stroke="#9a9ba3" stroke-width="2.3"/><circle cx="13.5" cy="9" r="1.6" fill="#9a9ba3"/><line x1="13.5" y1="12.8" x2="13.5" y2="18.6" stroke="#9a9ba3" stroke-width="2.6" stroke-linecap="round"/></svg><svg style="position:absolute;left:120px;top:800px;" width="1354" height="320" viewBox="0 0 1354 320"><polygon points="10.0,21.0 1350.0,21.0 1350.2,296.4 1350.0,296.0 1347.7,289.8 1346.0,294.6 1345.2,297.5 1342.0,296.3 1338.0,296.3 1334.0,296.0 1330.0,295.6 1326.0,295.9 1322.0,295.8 1319.7,296.1 1318.0,276.4 1316.7,260.8 1314.0,293.2 1313.7,297.9 1310.0,296.9 1309.5,296.4 1307.0,284.8 1306.0,289.6 1305.3,293.0 1304.5,292.3 1302.8,282.8 1302.0,287.3 1300.3,297.1 1298.0,297.9 1294.0,295.7 1291.5,283.8 1290.0,291.6 1289.0,295.6 1286.0,295.7 1282.0,297.3 1278.0,297.0 1274.0,297.9 1270.0,295.9 1266.0,296.2 1262.0,297.6 1258.0,297.9 1254.0,296.6 1250.0,295.8 1246.0,296.2 1242.0,297.5 1238.0,295.6 1234.0,296.2 1230.0,295.8 1226.0,298.0 1222.0,297.5 1218.0,298.1 1214.0,295.7 1210.0,296.8 1206.0,297.1 1202.0,296.4 1198.0,295.5 1194.0,296.6 1190.0,296.9 1186.0,295.6 1182.0,297.4 1178.0,296.3 1174.0,296.0 1170.0,296.4 1166.0,296.8 1162.0,296.6 1158.0,295.9 1154.0,297.7 1150.0,298.1 1146.0,296.8 1142.0,296.5 1138.0,298.0 1134.0,296.1 1130.0,298.0 1126.0,297.8 1122.0,295.9 1118.0,297.2 1114.0,297.4 1110.0,295.9 1106.0,297.8 1102.0,297.5 1098.0,297.2 1094.0,295.7 1090.0,296.1 1086.5,295.7 1086.0,291.2 1084.0,268.8 1082.5,285.6 1082.0,286.2 1081.5,275.6 1080.0,243.8 1078.0,286.2 1077.5,297.9 1074.0,297.8 1070.0,297.3 1066.0,297.9 1062.0,296.7 1058.0,296.9 1054.0,296.7 1050.0,297.3 1046.0,296.8 1042.0,296.8 1038.0,297.1 1034.0,296.7 1030.0,297.9 1026.0,297.5 1022.0,297.0 1018.0,296.8 1014.0,297.5 1010.0,296.2 1006.0,296.1 1002.0,297.0 998.0,295.8 994.0,297.5 990.0,296.9 986.0,296.8 982.0,296.3 978.0,296.9 974.0,297.4 970.0,296.7 966.0,295.9 962.0,297.6 958.0,295.5 954.0,296.0 950.0,296.6 946.0,295.5 942.0,296.9 938.0,296.9 934.0,296.8 930.0,297.9 926.0,296.6 922.0,297.9 918.0,297.0 914.0,296.7 910.0,296.4 906.0,297.9 902.0,295.8 898.0,296.6 894.0,296.2 890.0,297.0 886.0,296.1 882.0,296.3 878.0,296.2 874.0,296.0 870.0,297.6 866.0,297.8 862.0,296.6 858.4,296.8 858.0,288.0 856.0,243.8 854.0,288.0 853.6,295.5 850.0,295.8 846.0,296.9 842.0,296.4 838.0,297.2 834.0,298.0 830.0,297.6 826.0,295.9 822.0,297.6 818.0,297.9 814.0,295.9 810.0,295.8 806.0,295.9 802.0,297.4 798.0,298.0 794.0,296.5 790.0,296.5 786.0,298.0 782.0,297.6 778.0,296.4 774.0,297.6 770.0,296.0 766.0,296.7 762.0,297.5 758.0,297.5 754.0,297.9 750.0,297.2 746.0,295.7 742.0,297.6 738.0,297.2 734.0,296.7 730.0,297.7 726.0,297.8 722.0,297.1 718.0,296.0 714.0,296.0 710.0,296.1 706.0,296.1 702.0,296.4 698.0,298.0 694.0,298.1 690.0,297.9 686.0,296.7 682.0,298.0 678.0,297.3 674.5,296.2 674.0,295.8 672.0,291.8 670.0,295.6 669.5,296.4 666.0,296.8 662.0,296.1 658.0,297.4 654.0,297.6 650.0,297.6 646.0,297.7 642.0,298.1 638.0,297.6 635.4,296.1 634.0,265.9 633.0,243.8 630.6,296.8 630.0,297.5 626.0,295.9 622.0,296.5 618.0,296.2 614.0,297.3 610.0,297.7 606.0,298.0 602.0,296.9 598.0,295.6 594.0,296.9 590.0,295.9 586.0,296.9 582.0,298.0 578.0,295.6 574.0,295.9 570.0,297.7 566.0,296.2 562.5,296.4 562.0,295.8 560.0,291.8 558.0,295.8 557.5,296.7 554.0,298.1 550.0,297.7 546.0,295.8 542.0,296.4 538.0,296.4 534.0,296.2 530.0,295.9 526.0,297.1 522.0,297.8 518.0,295.6 514.0,296.4 510.0,295.8 506.0,295.9 502.0,295.5 498.0,295.6 494.0,296.4 490.0,295.9 486.0,296.0 482.0,295.7 478.0,295.7 474.0,297.1 470.0,295.8 466.0,296.5 462.0,296.5 458.0,297.6 454.0,297.8 450.0,297.5 446.0,297.8 442.0,295.6 438.0,297.3 434.0,297.1 430.0,296.8 426.0,297.3 422.0,298.0 418.0,297.0 414.0,296.5 412.4,296.6 410.0,242.8 407.6,296.2 406.0,297.0 402.0,296.8 398.0,296.1 394.0,296.1 390.0,296.0 386.0,295.9 382.0,298.0 378.0,297.8 374.0,296.4 370.0,296.6 366.0,296.2 362.0,297.7 358.0,297.6 354.0,297.8 350.0,296.9 346.0,296.7 342.0,295.7 338.0,297.8 334.0,296.5 330.0,296.1 326.0,295.8 322.0,297.5 318.0,295.7 314.0,295.8 310.0,295.9 306.0,296.7 302.0,295.6 298.0,297.2 294.0,296.5 290.0,296.2 286.0,297.6 282.0,298.1 278.0,297.2 274.0,297.3 270.0,295.7 266.0,297.2 262.0,296.7 258.0,298.0 254.0,297.7 250.0,296.7 246.0,297.0 242.0,297.0 238.0,297.3 234.0,296.3 230.0,297.8 226.0,297.0 222.0,297.5 218.0,297.2 214.0,295.6 210.0,296.8 206.0,295.9 202.0,297.5 198.0,296.6 194.0,295.8 190.0,298.0 188.4,296.2 186.0,260.8 183.6,296.8 182.0,296.9 178.0,297.0 174.0,296.1 170.0,297.3 166.0,297.6 162.0,296.3 158.0,296.7 154.0,297.0 150.0,296.3 146.0,296.6 142.0,297.3 138.0,296.0 134.0,295.7 130.0,295.7 126.0,296.9 122.0,296.5 118.0,297.2 114.0,297.0 110.0,296.0 106.0,297.6 102.0,296.3 98.0,295.8 94.0,295.9 90.0,296.3 86.0,297.7 82.0,295.6 78.0,298.0 74.0,296.5 70.0,297.0 66.5,298.0 66.0,295.6 64.0,290.8 62.0,295.6 61.5,297.6 58.0,296.6 54.0,295.7 50.0,295.7 46.0,296.6 42.0,295.6 38.0,296.8 34.0,295.7 30.0,296.5 26.0,296.9 22.0,295.7 18.0,297.2 14.0,295.9 10.0,296.3" fill="#465942"/><line x1="10" y1="90" x2="1350" y2="90" stroke="rgba(204,204,220,0.07)" stroke-width="2"/><line x1="10" y1="160" x2="1350" y2="160" stroke="rgba(204,204,220,0.07)" stroke-width="2"/><line x1="10" y1="230" x2="1350" y2="230" stroke="rgba(204,204,220,0.07)" stroke-width="2"/><line x1="69.9" y1="20" x2="69.9" y2="308" stroke="rgba(204,204,220,0.07)" stroke-width="2"/><line x1="181.6" y1="20" x2="181.6" y2="308" stroke="rgba(204,204,220,0.07)" stroke-width="2"/><line x1="293.4" y1="20" x2="293.4" y2="308" stroke="rgba(204,204,220,0.07)" stroke-width="2"/><line x1="405.1" y1="20" x2="405.1" y2="308" stroke="rgba(204,204,220,0.07)" stroke-width="2"/><line x1="516.8" y1="20" x2="516.8" y2="308" stroke="rgba(204,204,220,0.07)" stroke-width="2"/><line x1="628.5" y1="20" x2="628.5" y2="308" stroke="rgba(204,204,220,0.07)" stroke-width="2"/><line x1="740.3" y1="20" x2="740.3" y2="308" stroke="rgba(204,204,220,0.07)" stroke-width="2"/><line x1="852.0" y1="20" x2="852.0" y2="308" stroke="rgba(204,204,220,0.07)" stroke-width="2"/><line x1="963.7" y1="20" x2="963.7" y2="308" stroke="rgba(204,204,220,0.07)" stroke-width="2"/><line x1="1075.5" y1="20" x2="1075.5" y2="308" stroke="rgba(204,204,220,0.07)" stroke-width="2"/><line x1="1187.2" y1="20" x2="1187.2" y2="308" stroke="rgba(204,204,220,0.07)" stroke-width="2"/><line x1="1298.9" y1="20" x2="1298.9" y2="308" stroke="rgba(204,204,220,0.07)" stroke-width="2"/><polygon points="10.0,300.0 10.0,296.3 14.0,295.9 18.0,297.2 22.0,295.7 26.0,296.9 30.0,296.5 34.0,295.7 38.0,296.8 42.0,295.6 46.0,296.6 50.0,295.7 54.0,295.7 58.0,296.6 61.5,297.6 62.0,295.6 64.0,290.8 66.0,295.6 66.5,298.0 70.0,297.0 74.0,296.5 78.0,298.0 82.0,295.6 86.0,297.7 90.0,296.3 94.0,295.9 98.0,295.8 102.0,296.3 106.0,297.6 110.0,296.0 114.0,297.0 118.0,297.2 122.0,296.5 126.0,296.9 130.0,295.7 134.0,295.7 138.0,296.0 142.0,297.3 146.0,296.6 150.0,296.3 154.0,297.0 158.0,296.7 162.0,296.3 166.0,297.6 170.0,297.3 174.0,296.1 178.0,297.0 182.0,296.9 183.6,296.8 186.0,260.8 188.4,296.2 190.0,298.0 194.0,295.8 198.0,296.6 202.0,297.5 206.0,295.9 210.0,296.8 214.0,295.6 218.0,297.2 222.0,297.5 226.0,297.0 230.0,297.8 234.0,296.3 238.0,297.3 242.0,297.0 246.0,297.0 250.0,296.7 254.0,297.7 258.0,298.0 262.0,296.7 266.0,297.2 270.0,295.7 274.0,297.3 278.0,297.2 282.0,298.1 286.0,297.6 290.0,296.2 294.0,296.5 298.0,297.2 302.0,295.6 306.0,296.7 310.0,295.9 314.0,295.8 318.0,295.7 322.0,297.5 326.0,295.8 330.0,296.1 334.0,296.5 338.0,297.8 342.0,295.7 346.0,296.7 350.0,296.9 354.0,297.8 358.0,297.6 362.0,297.7 366.0,296.2 370.0,296.6 374.0,296.4 378.0,297.8 382.0,298.0 386.0,295.9 390.0,296.0 394.0,296.1 398.0,296.1 402.0,296.8 406.0,297.0 407.6,296.2 410.0,242.8 412.4,296.6 414.0,296.5 418.0,297.0 422.0,298.0 426.0,297.3 430.0,296.8 434.0,297.1 438.0,297.3 442.0,295.6 446.0,297.8 450.0,297.5 454.0,297.8 458.0,297.6 462.0,296.5 466.0,296.5 470.0,295.8 474.0,297.1 478.0,295.7 482.0,295.7 486.0,296.0 490.0,295.9 494.0,296.4 498.0,295.6 502.0,295.5 506.0,295.9 510.0,295.8 514.0,296.4 518.0,295.6 522.0,297.8 526.0,297.1 530.0,295.9 534.0,296.2 538.0,296.4 542.0,296.4 546.0,295.8 550.0,297.7 554.0,298.1 557.5,296.7 558.0,295.8 560.0,291.8 562.0,295.8 562.5,296.4 566.0,296.2 570.0,297.7 574.0,295.9 578.0,295.6 582.0,298.0 586.0,296.9 590.0,295.9 594.0,296.9 598.0,295.6 602.0,296.9 606.0,298.0 610.0,297.7 614.0,297.3 618.0,296.2 622.0,296.5 626.0,295.9 630.0,297.5 630.6,296.8 633.0,243.8 634.0,265.9 635.4,296.1 638.0,297.6 642.0,298.1 646.0,297.7 650.0,297.6 654.0,297.6 658.0,297.4 662.0,296.1 666.0,296.8 669.5,296.4 670.0,295.6 672.0,291.8 674.0,295.8 674.5,296.2 678.0,297.3 682.0,298.0 686.0,296.7 690.0,297.9 694.0,298.1 698.0,298.0 702.0,296.4 706.0,296.1 710.0,296.1 714.0,296.0 718.0,296.0 722.0,297.1 726.0,297.8 730.0,297.7 734.0,296.7 738.0,297.2 742.0,297.6 746.0,295.7 750.0,297.2 754.0,297.9 758.0,297.5 762.0,297.5 766.0,296.7 770.0,296.0 774.0,297.6 778.0,296.4 782.0,297.6 786.0,298.0 790.0,296.5 794.0,296.5 798.0,298.0 802.0,297.4 806.0,295.9 810.0,295.8 814.0,295.9 818.0,297.9 822.0,297.6 826.0,295.9 830.0,297.6 834.0,298.0 838.0,297.2 842.0,296.4 846.0,296.9 850.0,295.8 853.6,295.5 854.0,288.0 856.0,243.8 858.0,288.0 858.4,296.8 862.0,296.6 866.0,297.8 870.0,297.6 874.0,296.0 878.0,296.2 882.0,296.3 886.0,296.1 890.0,297.0 894.0,296.2 898.0,296.6 902.0,295.8 906.0,297.9 910.0,296.4 914.0,296.7 918.0,297.0 922.0,297.9 926.0,296.6 930.0,297.9 934.0,296.8 938.0,296.9 942.0,296.9 946.0,295.5 950.0,296.6 954.0,296.0 958.0,295.5 962.0,297.6 966.0,295.9 970.0,296.7 974.0,297.4 978.0,296.9 982.0,296.3 986.0,296.8 990.0,296.9 994.0,297.5 998.0,295.8 1002.0,297.0 1006.0,296.1 1010.0,296.2 1014.0,297.5 1018.0,296.8 1022.0,297.0 1026.0,297.5 1030.0,297.9 1034.0,296.7 1038.0,297.1 1042.0,296.8 1046.0,296.8 1050.0,297.3 1054.0,296.7 1058.0,296.9 1062.0,296.7 1066.0,297.9 1070.0,297.3 1074.0,297.8 1077.5,297.9 1078.0,286.2 1080.0,243.8 1081.5,275.6 1082.0,286.2 1082.5,285.6 1084.0,268.8 1086.0,291.2 1086.5,295.7 1090.0,296.1 1094.0,295.7 1098.0,297.2 1102.0,297.5 1106.0,297.8 1110.0,295.9 1114.0,297.4 1118.0,297.2 1122.0,295.9 1126.0,297.8 1130.0,298.0 1134.0,296.1 1138.0,298.0 1142.0,296.5 1146.0,296.8 1150.0,298.1 1154.0,297.7 1158.0,295.9 1162.0,296.6 1166.0,296.8 1170.0,296.4 1174.0,296.0 1178.0,296.3 1182.0,297.4 1186.0,295.6 1190.0,296.9 1194.0,296.6 1198.0,295.5 1202.0,296.4 1206.0,297.1 1210.0,296.8 1214.0,295.7 1218.0,298.1 1222.0,297.5 1226.0,298.0 1230.0,295.8 1234.0,296.2 1238.0,295.6 1242.0,297.5 1246.0,296.2 1250.0,295.8 1254.0,296.6 1258.0,297.9 1262.0,297.6 1266.0,296.2 1270.0,295.9 1274.0,297.9 1278.0,297.0 1282.0,297.3 1286.0,295.7 1289.0,295.6 1290.0,291.6 1291.5,283.8 1294.0,295.7 1298.0,297.9 1300.3,297.1 1302.0,287.3 1302.8,282.8 1304.5,292.3 1305.3,293.0 1306.0,289.6 1307.0,284.8 1309.5,296.4 1310.0,296.9 1313.7,297.9 1314.0,293.2 1316.7,260.8 1318.0,276.4 1319.7,296.1 1322.0,295.8 1326.0,295.9 1330.0,295.6 1334.0,296.0 1338.0,296.3 1342.0,296.3 1345.2,297.5 1346.0,294.6 1347.7,289.8 1350.0,296.0 1350.2,296.4 1350.0,300.0" fill="#3a2a45"/><polyline points="10.0,296.3 14.0,295.9 18.0,297.2 22.0,295.7 26.0,296.9 30.0,296.5 34.0,295.7 38.0,296.8 42.0,295.6 46.0,296.6 50.0,295.7 54.0,295.7 58.0,296.6 61.5,297.6 62.0,295.6 64.0,290.8 66.0,295.6 66.5,298.0 70.0,297.0 74.0,296.5 78.0,298.0 82.0,295.6 86.0,297.7 90.0,296.3 94.0,295.9 98.0,295.8 102.0,296.3 106.0,297.6 110.0,296.0 114.0,297.0 118.0,297.2 122.0,296.5 126.0,296.9 130.0,295.7 134.0,295.7 138.0,296.0 142.0,297.3 146.0,296.6 150.0,296.3 154.0,297.0 158.0,296.7 162.0,296.3 166.0,297.6 170.0,297.3 174.0,296.1 178.0,297.0 182.0,296.9 183.6,296.8 186.0,260.8 188.4,296.2 190.0,298.0 194.0,295.8 198.0,296.6 202.0,297.5 206.0,295.9 210.0,296.8 214.0,295.6 218.0,297.2 222.0,297.5 226.0,297.0 230.0,297.8 234.0,296.3 238.0,297.3 242.0,297.0 246.0,297.0 250.0,296.7 254.0,297.7 258.0,298.0 262.0,296.7 266.0,297.2 270.0,295.7 274.0,297.3 278.0,297.2 282.0,298.1 286.0,297.6 290.0,296.2 294.0,296.5 298.0,297.2 302.0,295.6 306.0,296.7 310.0,295.9 314.0,295.8 318.0,295.7 322.0,297.5 326.0,295.8 330.0,296.1 334.0,296.5 338.0,297.8 342.0,295.7 346.0,296.7 350.0,296.9 354.0,297.8 358.0,297.6 362.0,297.7 366.0,296.2 370.0,296.6 374.0,296.4 378.0,297.8 382.0,298.0 386.0,295.9 390.0,296.0 394.0,296.1 398.0,296.1 402.0,296.8 406.0,297.0 407.6,296.2 410.0,242.8 412.4,296.6 414.0,296.5 418.0,297.0 422.0,298.0 426.0,297.3 430.0,296.8 434.0,297.1 438.0,297.3 442.0,295.6 446.0,297.8 450.0,297.5 454.0,297.8 458.0,297.6 462.0,296.5 466.0,296.5 470.0,295.8 474.0,297.1 478.0,295.7 482.0,295.7 486.0,296.0 490.0,295.9 494.0,296.4 498.0,295.6 502.0,295.5 506.0,295.9 510.0,295.8 514.0,296.4 518.0,295.6 522.0,297.8 526.0,297.1 530.0,295.9 534.0,296.2 538.0,296.4 542.0,296.4 546.0,295.8 550.0,297.7 554.0,298.1 557.5,296.7 558.0,295.8 560.0,291.8 562.0,295.8 562.5,296.4 566.0,296.2 570.0,297.7 574.0,295.9 578.0,295.6 582.0,298.0 586.0,296.9 590.0,295.9 594.0,296.9 598.0,295.6 602.0,296.9 606.0,298.0 610.0,297.7 614.0,297.3 618.0,296.2 622.0,296.5 626.0,295.9 630.0,297.5 630.6,296.8 633.0,243.8 634.0,265.9 635.4,296.1 638.0,297.6 642.0,298.1 646.0,297.7 650.0,297.6 654.0,297.6 658.0,297.4 662.0,296.1 666.0,296.8 669.5,296.4 670.0,295.6 672.0,291.8 674.0,295.8 674.5,296.2 678.0,297.3 682.0,298.0 686.0,296.7 690.0,297.9 694.0,298.1 698.0,298.0 702.0,296.4 706.0,296.1 710.0,296.1 714.0,296.0 718.0,296.0 722.0,297.1 726.0,297.8 730.0,297.7 734.0,296.7 738.0,297.2 742.0,297.6 746.0,295.7 750.0,297.2 754.0,297.9 758.0,297.5 762.0,297.5 766.0,296.7 770.0,296.0 774.0,297.6 778.0,296.4 782.0,297.6 786.0,298.0 790.0,296.5 794.0,296.5 798.0,298.0 802.0,297.4 806.0,295.9 810.0,295.8 814.0,295.9 818.0,297.9 822.0,297.6 826.0,295.9 830.0,297.6 834.0,298.0 838.0,297.2 842.0,296.4 846.0,296.9 850.0,295.8 853.6,295.5 854.0,288.0 856.0,243.8 858.0,288.0 858.4,296.8 862.0,296.6 866.0,297.8 870.0,297.6 874.0,296.0 878.0,296.2 882.0,296.3 886.0,296.1 890.0,297.0 894.0,296.2 898.0,296.6 902.0,295.8 906.0,297.9 910.0,296.4 914.0,296.7 918.0,297.0 922.0,297.9 926.0,296.6 930.0,297.9 934.0,296.8 938.0,296.9 942.0,296.9 946.0,295.5 950.0,296.6 954.0,296.0 958.0,295.5 962.0,297.6 966.0,295.9 970.0,296.7 974.0,297.4 978.0,296.9 982.0,296.3 986.0,296.8 990.0,296.9 994.0,297.5 998.0,295.8 1002.0,297.0 1006.0,296.1 1010.0,296.2 1014.0,297.5 1018.0,296.8 1022.0,297.0 1026.0,297.5 1030.0,297.9 1034.0,296.7 1038.0,297.1 1042.0,296.8 1046.0,296.8 1050.0,297.3 1054.0,296.7 1058.0,296.9 1062.0,296.7 1066.0,297.9 1070.0,297.3 1074.0,297.8 1077.5,297.9 1078.0,286.2 1080.0,243.8 1081.5,275.6 1082.0,286.2 1082.5,285.6 1084.0,268.8 1086.0,291.2 1086.5,295.7 1090.0,296.1 1094.0,295.7 1098.0,297.2 1102.0,297.5 1106.0,297.8 1110.0,295.9 1114.0,297.4 1118.0,297.2 1122.0,295.9 1126.0,297.8 1130.0,298.0 1134.0,296.1 1138.0,298.0 1142.0,296.5 1146.0,296.8 1150.0,298.1 1154.0,297.7 1158.0,295.9 1162.0,296.6 1166.0,296.8 1170.0,296.4 1174.0,296.0 1178.0,296.3 1182.0,297.4 1186.0,295.6 1190.0,296.9 1194.0,296.6 1198.0,295.5 1202.0,296.4 1206.0,297.1 1210.0,296.8 1214.0,295.7 1218.0,298.1 1222.0,297.5 1226.0,298.0 1230.0,295.8 1234.0,296.2 1238.0,295.6 1242.0,297.5 1246.0,296.2 1250.0,295.8 1254.0,296.6 1258.0,297.9 1262.0,297.6 1266.0,296.2 1270.0,295.9 1274.0,297.9 1278.0,297.0 1282.0,297.3 1286.0,295.7 1289.0,295.6 1290.0,291.6 1291.5,283.8 1294.0,295.7 1298.0,297.9 1300.3,297.1 1302.0,287.3 1302.8,282.8 1304.5,292.3 1305.3,293.0 1306.0,289.6 1307.0,284.8 1309.5,296.4 1310.0,296.9 1313.7,297.9 1314.0,293.2 1316.7,260.8 1318.0,276.4 1319.7,296.1 1322.0,295.8 1326.0,295.9 1330.0,295.6 1334.0,296.0 1338.0,296.3 1342.0,296.3 1345.2,297.5 1346.0,294.6 1347.7,289.8 1350.0,296.0 1350.2,296.4" fill="none" stroke="#73297a" stroke-width="1.9"/><polyline points="10.0,299.0 14.0,298.9 18.0,299.0 22.0,298.9 26.0,299.0 30.0,299.0 34.0,298.9 38.0,299.0 42.0,298.9 46.0,299.0 50.0,298.9 54.0,298.9 58.0,299.0 61.5,299.0 62.0,298.9 64.0,298.6 66.0,298.9 66.5,299.1 70.0,299.0 74.0,299.0 78.0,299.1 82.0,298.9 86.0,299.0 90.0,299.0 94.0,298.9 98.0,298.9 102.0,299.0 106.0,299.0 110.0,298.9 114.0,299.0 118.0,299.0 122.0,299.0 126.0,299.0 130.0,298.9 134.0,298.9 138.0,298.9 142.0,299.0 146.0,299.0 150.0,299.0 154.0,299.0 158.0,299.0 162.0,299.0 166.0,299.0 170.0,299.0 174.0,298.9 178.0,299.0 182.0,299.0 183.6,299.0 186.0,296.8 188.4,299.0 190.0,299.1 194.0,298.9 198.0,299.0 202.0,299.0 206.0,298.9 210.0,299.0 214.0,298.9 218.0,299.0 222.0,299.0 226.0,299.0 230.0,299.0 234.0,299.0 238.0,299.0 242.0,299.0 246.0,299.0 250.0,299.0 254.0,299.0 258.0,299.1 262.0,299.0 266.0,299.0 270.0,298.9 274.0,299.0 278.0,299.0 282.0,299.1 286.0,299.0 290.0,299.0 294.0,299.0 298.0,299.0 302.0,298.9 306.0,299.0 310.0,298.9 314.0,298.9 318.0,298.9 322.0,299.0 326.0,298.9 330.0,298.9 334.0,299.0 338.0,299.0 342.0,298.9 346.0,299.0 350.0,299.0 354.0,299.0 358.0,299.0 362.0,299.0 366.0,299.0 370.0,299.0 374.0,299.0 378.0,299.0 382.0,299.1 386.0,298.9 390.0,298.9 394.0,298.9 398.0,298.9 402.0,299.0 406.0,299.0 407.6,299.0 410.0,295.7 412.4,299.0 414.0,299.0 418.0,299.0 422.0,299.1 426.0,299.0 430.0,299.0 434.0,299.0 438.0,299.0 442.0,298.9 446.0,299.1 450.0,299.0 454.0,299.0 458.0,299.0 462.0,299.0 466.0,299.0 470.0,298.9 474.0,299.0 478.0,298.9 482.0,298.9 486.0,298.9 490.0,298.9 494.0,299.0 498.0,298.9 502.0,298.9 506.0,298.9 510.0,298.9 514.0,299.0 518.0,298.9 522.0,299.0 526.0,299.0 530.0,298.9 534.0,298.9 538.0,299.0 542.0,299.0 546.0,298.9 550.0,299.0 554.0,299.1 557.5,299.0 558.0,298.9 560.0,298.7 562.0,298.9 562.5,299.0 566.0,299.0 570.0,299.0 574.0,298.9 578.0,298.9 582.0,299.1 586.0,299.0 590.0,298.9 594.0,299.0 598.0,298.9 602.0,299.0 606.0,299.1 610.0,299.0 614.0,299.0 618.0,299.0 622.0,299.0 626.0,298.9 630.0,299.0 630.6,299.0 633.0,295.8 634.0,297.1 635.4,298.9 638.0,299.0 642.0,299.1 646.0,299.0 650.0,299.0 654.0,299.0 658.0,299.0 662.0,298.9 666.0,299.0 669.5,299.0 670.0,298.9 672.0,298.7 674.0,298.9 674.5,299.0 678.0,299.0 682.0,299.1 686.0,299.0 690.0,299.1 694.0,299.1 698.0,299.1 702.0,299.0 706.0,298.9 710.0,298.9 714.0,298.9 718.0,298.9 722.0,299.0 726.0,299.1 730.0,299.0 734.0,299.0 738.0,299.0 742.0,299.0 746.0,298.9 750.0,299.0 754.0,299.1 758.0,299.0 762.0,299.0 766.0,299.0 770.0,298.9 774.0,299.0 778.0,299.0 782.0,299.0 786.0,299.1 790.0,299.0 794.0,299.0 798.0,299.1 802.0,299.0 806.0,298.9 810.0,298.9 814.0,298.9 818.0,299.1 822.0,299.0 826.0,298.9 830.0,299.0 834.0,299.1 838.0,299.0 842.0,299.0 846.0,299.0 850.0,298.9 853.6,298.9 854.0,298.5 856.0,295.8 858.0,298.5 858.4,299.0 862.0,299.0 866.0,299.0 870.0,299.0 874.0,298.9 878.0,298.9 882.0,299.0 886.0,298.9 890.0,299.0 894.0,299.0 898.0,299.0 902.0,298.9 906.0,299.1 910.0,299.0 914.0,299.0 918.0,299.0 922.0,299.1 926.0,299.0 930.0,299.1 934.0,299.0 938.0,299.0 942.0,299.0 946.0,298.9 950.0,299.0 954.0,298.9 958.0,298.9 962.0,299.0 966.0,298.9 970.0,299.0 974.0,299.0 978.0,299.0 982.0,299.0 986.0,299.0 990.0,299.0 994.0,299.0 998.0,298.9 1002.0,299.0 1006.0,298.9 1010.0,299.0 1014.0,299.0 1018.0,299.0 1022.0,299.0 1026.0,299.0 1030.0,299.1 1034.0,299.0 1038.0,299.0 1042.0,299.0 1046.0,299.0 1050.0,299.0 1054.0,299.0 1058.0,299.0 1062.0,299.0 1066.0,299.1 1070.0,299.0 1074.0,299.0 1077.5,299.1 1078.0,298.4 1080.0,295.8 1081.5,297.7 1082.0,298.4 1082.5,298.3 1084.0,297.3 1086.0,298.7 1086.5,298.9 1090.0,298.9 1094.0,298.9 1098.0,299.0 1102.0,299.0 1106.0,299.0 1110.0,298.9 1114.0,299.0 1118.0,299.0 1122.0,298.9 1126.0,299.0 1130.0,299.1 1134.0,298.9 1138.0,299.1 1142.0,299.0 1146.0,299.0 1150.0,299.1 1154.0,299.0 1158.0,298.9 1162.0,299.0 1166.0,299.0 1170.0,299.0 1174.0,298.9 1178.0,299.0 1182.0,299.0 1186.0,298.9 1190.0,299.0 1194.0,299.0 1198.0,298.9 1202.0,299.0 1206.0,299.0 1210.0,299.0 1214.0,298.9 1218.0,299.1 1222.0,299.0 1226.0,299.1 1230.0,298.9 1234.0,299.0 1238.0,298.9 1242.0,299.0 1246.0,299.0 1250.0,298.9 1254.0,299.0 1258.0,299.1 1262.0,299.0 1266.0,299.0 1270.0,298.9 1274.0,299.1 1278.0,299.0 1282.0,299.0 1286.0,298.9 1289.0,298.9 1290.0,298.7 1291.5,298.2 1294.0,298.9 1298.0,299.1 1300.3,299.0 1302.0,298.4 1302.8,298.1 1304.5,298.7 1305.3,298.8 1306.0,298.6 1307.0,298.3 1309.5,299.0 1310.0,299.0 1313.7,299.1 1314.0,298.8 1316.7,296.8 1318.0,297.8 1319.7,298.9 1322.0,298.9 1326.0,298.9 1330.0,298.9 1334.0,298.9 1338.0,299.0 1342.0,299.0 1345.2,299.0 1346.0,298.9 1347.7,298.6 1350.0,298.9 1350.2,299.0" fill="none" stroke="#c9a53a" stroke-width="1.7"/><line x1="10" y1="20" x2="1350" y2="20" stroke="#86c17a" stroke-width="2.5"/></svg><div style="position:absolute;top:806.34px;font-size:25px;line-height:25px;color:#ccccdc;white-space:nowrap;-webkit-text-stroke:0.3px #ccccdc;letter-spacing:0.6px;right:2901.90px;">100%</div><div style="position:absolute;top:876.34px;font-size:25px;line-height:25px;color:#ccccdc;white-space:nowrap;-webkit-text-stroke:0.3px #ccccdc;letter-spacing:0.6px;right:2901.90px;">75%</div><div style="position:absolute;top:946.34px;font-size:25px;line-height:25px;color:#ccccdc;white-space:nowrap;-webkit-text-stroke:0.3px #ccccdc;letter-spacing:0.6px;right:2901.90px;">50%</div><div style="position:absolute;top:1016.34px;font-size:25px;line-height:25px;color:#ccccdc;white-space:nowrap;-webkit-text-stroke:0.3px #ccccdc;letter-spacing:0.6px;right:2901.90px;">25%</div><div style="position:absolute;top:1086.34px;font-size:25px;line-height:25px;color:#ccccdc;white-space:nowrap;-webkit-text-stroke:0.3px #ccccdc;letter-spacing:0.6px;right:2901.90px;">0%</div><div style="position:absolute;top:1115.84px;font-size:25px;line-height:25px;color:#ccccdc;white-space:nowrap;-webkit-text-stroke:0.3px #ccccdc;letter-spacing:0.6px;left:-809.80px;width:2000px;text-align:center;">01:30</div><div style="position:absolute;top:1115.84px;font-size:25px;line-height:25px;color:#ccccdc;white-space:nowrap;-webkit-text-stroke:0.3px #ccccdc;letter-spacing:0.6px;left:-698.07px;width:2000px;text-align:center;">02:00</div><div style="position:absolute;top:1115.84px;font-size:25px;line-height:25px;color:#ccccdc;white-space:nowrap;-webkit-text-stroke:0.3px #ccccdc;letter-spacing:0.6px;left:-586.34px;width:2000px;text-align:center;">02:30</div><div style="position:absolute;top:1115.84px;font-size:25px;line-height:25px;color:#ccccdc;white-space:nowrap;-webkit-text-stroke:0.3px #ccccdc;letter-spacing:0.6px;left:-474.61px;width:2000px;text-align:center;">03:00</div><div style="position:absolute;top:1115.84px;font-size:25px;line-height:25px;color:#ccccdc;white-space:nowrap;-webkit-text-stroke:0.3px #ccccdc;letter-spacing:0.6px;left:-362.88px;width:2000px;text-align:center;">03:30</div><div style="position:absolute;top:1115.84px;font-size:25px;line-height:25px;color:#ccccdc;white-space:nowrap;-webkit-text-stroke:0.3px #ccccdc;letter-spacing:0.6px;left:-251.15px;width:2000px;text-align:center;">04:00</div><div style="position:absolute;top:1115.84px;font-size:25px;line-height:25px;color:#ccccdc;white-space:nowrap;-webkit-text-stroke:0.3px #ccccdc;letter-spacing:0.6px;left:-139.42px;width:2000px;text-align:center;">04:30</div><div style="position:absolute;top:1115.84px;font-size:25px;line-height:25px;color:#ccccdc;white-space:nowrap;-webkit-text-stroke:0.3px #ccccdc;letter-spacing:0.6px;left:-27.69px;width:2000px;text-align:center;">05:00</div><div style="position:absolute;top:1115.84px;font-size:25px;line-height:25px;color:#ccccdc;white-space:nowrap;-webkit-text-stroke:0.3px #ccccdc;letter-spacing:0.6px;left:84.04px;width:2000px;text-align:center;">05:30</div><div style="position:absolute;top:1115.84px;font-size:25px;line-height:25px;color:#ccccdc;white-space:nowrap;-webkit-text-stroke:0.3px #ccccdc;letter-spacing:0.6px;left:195.77px;width:2000px;text-align:center;">06:00</div><div style="position:absolute;top:1115.84px;font-size:25px;line-height:25px;color:#ccccdc;white-space:nowrap;-webkit-text-stroke:0.3px #ccccdc;letter-spacing:0.6px;left:307.50px;width:2000px;text-align:center;">06:30</div><div style="position:absolute;top:1115.84px;font-size:25px;line-height:25px;color:#ccccdc;white-space:nowrap;-webkit-text-stroke:0.3px #ccccdc;letter-spacing:0.6px;left:419.23px;width:2000px;text-align:center;">07:00</div><div style="position:absolute;left:58px;top:1167px;width:28px;height:8px;background:#e5bf4f;box-sizing:border-box;border-radius:4px;"></div><div style="position:absolute;top:1159.46px;font-size:24.5px;line-height:24.5px;color:#ccccdc;white-space:nowrap;-webkit-text-stroke:0.35px #ccccdc;letter-spacing:0.7px;left:100.70px;">Busy System</div><div style="position:absolute;left:272px;top:1167px;width:28px;height:8px;background:#1f4a80;box-sizing:border-box;border-radius:4px;"></div><div style="position:absolute;top:1159.46px;font-size:24.5px;line-height:24.5px;color:#ccccdc;white-space:nowrap;-webkit-text-stroke:0.35px #ccccdc;letter-spacing:0.7px;left:313.70px;">Busy User</div><div style="position:absolute;left:454px;top:1167px;width:28px;height:8px;background:#8a1f14;box-sizing:border-box;border-radius:4px;"></div><div style="position:absolute;top:1159.46px;font-size:24.5px;line-height:24.5px;color:#ccccdc;white-space:nowrap;-webkit-text-stroke:0.35px #ccccdc;letter-spacing:0.7px;left:495.70px;">Busy Iowait</div><div style="position:absolute;left:650px;top:1167px;width:28px;height:8px;background:#f08a3a;box-sizing:border-box;border-radius:4px;"></div><div style="position:absolute;top:1159.46px;font-size:24.5px;line-height:24.5px;color:#ccccdc;white-space:nowrap;-webkit-text-stroke:0.35px #ccccdc;letter-spacing:0.7px;left:692.70px;">Busy IRQs</div><div style="position:absolute;left:831px;top:1167px;width:28px;height:8px;background:#6d2766;box-sizing:border-box;border-radius:4px;"></div><div style="position:absolute;top:1159.46px;font-size:24.5px;line-height:24.5px;color:#ccccdc;white-space:nowrap;-webkit-text-stroke:0.35px #ccccdc;letter-spacing:0.7px;left:873.70px;">Busy Other</div><div style="position:absolute;left:1024px;top:1167px;width:28px;height:8px;background:#86c17a;box-sizing:border-box;border-radius:4px;"></div><div style="position:absolute;top:1159.46px;font-size:24.5px;line-height:24.5px;color:#ccccdc;white-space:nowrap;-webkit-text-stroke:0.35px #ccccdc;letter-spacing:0.7px;left:1066.70px;">Idle</div><div style="position:absolute;left:1520px;top:722px;width:1472px;height:516px;background:#1b1c20;box-sizing:border-box;border:2px solid #303136;border-radius:4px;"></div><div style="position:absolute;top:742.45px;font-size:29px;line-height:29px;color:#ccccdc;white-space:nowrap;-webkit-text-stroke:0.9px #ccccdc;letter-spacing:0.45px;left:1536.80px;">Memory Basic</div><svg style="position:absolute;left:1765px;top:743px;" width="27" height="27" viewBox="0 0 27 27"><circle cx="13.5" cy="13.5" r="12" fill="none" stroke="#9a9ba3" stroke-width="2.3"/><circle cx="13.5" cy="9" r="1.6" fill="#9a9ba3"/><line x1="13.5" y1="12.8" x2="13.5" y2="18.6" stroke="#9a9ba3" stroke-width="2.6" stroke-linecap="round"/></svg><svg style="position:absolute;left:1610px;top:800px;" width="1352" height="320" viewBox="0 0 1352 320"><line x1="10" y1="33.299999999999955" x2="1348" y2="33.299999999999955" stroke="rgba(204,204,220,0.085)" stroke-width="2"/><line x1="10" y1="100" x2="1348" y2="100" stroke="rgba(204,204,220,0.085)" stroke-width="2"/><line x1="10" y1="166.70000000000005" x2="1348" y2="166.70000000000005" stroke="rgba(204,204,220,0.085)" stroke-width="2"/><line x1="10" y1="233.29999999999995" x2="1348" y2="233.29999999999995" stroke="rgba(204,204,220,0.085)" stroke-width="2"/><rect x="10" y="48" width="1338" height="5" fill="#54201f"/><polygon points="10.0,53.0 1348.0,53.0 1348.0,60.1 1346.0,59.8 1342.0,60.0 1338.0,60.2 1334.0,60.1 1330.0,59.8 1326.0,59.8 1322.0,60.1 1318.0,59.8 1314.0,65.8 1310.0,66.0 1306.0,65.9 1302.0,65.4 1298.0,66.2 1294.0,66.2 1290.0,77.1 1286.0,76.8 1282.0,77.1 1278.0,77.2 1274.0,77.0 1270.0,76.8 1266.0,77.1 1262.0,77.0 1258.0,77.2 1254.0,76.4 1250.0,77.0 1246.0,76.8 1242.0,76.6 1238.0,77.0 1234.0,76.8 1230.0,75.7 1226.0,77.0 1222.0,77.0 1218.0,77.1 1214.0,77.0 1210.0,76.8 1206.0,77.0 1202.0,77.0 1198.0,77.0 1194.0,77.1 1190.0,76.6 1186.0,77.0 1182.0,77.1 1178.0,76.8 1174.0,77.1 1170.0,76.8 1166.0,77.0 1162.0,76.9 1158.0,77.2 1154.0,77.0 1150.0,77.1 1146.0,77.2 1142.0,77.2 1138.0,77.2 1134.0,77.0 1130.0,77.2 1126.0,76.8 1122.0,77.2 1118.0,76.8 1114.0,77.0 1110.0,76.8 1106.0,76.9 1102.0,76.8 1098.0,77.1 1094.0,76.8 1090.0,77.0 1086.0,77.0 1082.0,83.0 1078.0,77.8 1074.0,78.1 1070.0,78.0 1066.0,78.2 1062.0,78.0 1058.0,78.0 1054.0,78.0 1050.0,78.0 1046.0,76.9 1042.0,78.2 1038.0,77.3 1034.0,77.9 1030.0,78.3 1026.0,78.0 1022.0,78.2 1018.0,77.9 1014.0,78.2 1010.0,78.0 1006.0,78.0 1002.0,78.0 998.0,77.8 994.0,78.4 990.0,78.1 986.0,78.4 982.0,78.4 978.0,78.5 974.0,78.1 970.0,78.0 966.0,78.4 962.0,77.6 958.0,78.5 954.0,78.5 950.0,78.3 946.0,78.3 942.0,78.4 938.0,78.2 934.0,78.2 930.0,78.5 926.0,78.4 922.0,78.4 918.0,78.5 914.0,78.5 910.0,78.5 906.0,78.3 902.0,78.5 898.0,77.1 894.0,78.3 890.0,78.6 886.0,78.4 882.0,77.0 878.0,78.3 874.0,77.3 870.0,78.6 866.0,78.4 862.0,78.6 858.0,78.7 854.0,78.7 850.0,78.8 846.0,78.5 842.0,78.5 838.0,78.8 834.0,77.5 830.0,78.8 826.0,78.8 822.0,78.4 818.0,78.5 814.0,78.5 810.0,78.9 806.0,78.6 802.0,78.8 798.0,78.8 794.0,77.2 790.0,78.8 786.0,77.9 782.0,78.9 778.0,78.6 774.0,78.7 770.0,78.5 766.0,78.9 762.0,78.7 758.0,79.0 754.0,79.0 750.0,77.8 746.0,78.6 742.0,78.7 738.0,78.5 734.0,78.9 730.0,78.7 726.0,79.0 722.0,79.0 718.0,79.0 714.0,77.5 710.0,78.7 706.0,78.7 702.0,78.7 698.0,79.0 694.0,78.8 690.0,78.9 686.0,78.8 682.0,78.8 678.0,79.1 674.0,79.2 670.0,79.0 666.0,79.1 662.0,79.1 658.0,78.1 654.0,78.9 650.0,79.1 646.0,79.0 642.0,78.4 638.0,78.9 634.0,79.3 630.0,78.9 626.0,79.3 622.0,79.3 618.0,78.1 614.0,79.1 610.0,79.0 606.0,78.6 602.0,78.9 598.0,79.2 594.0,79.0 590.0,79.2 586.0,79.0 582.0,78.9 578.0,79.2 574.0,79.3 570.0,79.4 566.0,79.2 562.0,79.0 558.0,79.5 554.0,79.4 550.0,78.4 546.0,79.3 542.0,79.5 538.0,77.8 534.0,79.5 530.0,79.5 526.0,79.2 522.0,79.2 518.0,79.5 514.0,78.7 510.0,79.6 506.0,79.1 502.0,79.3 498.0,79.3 494.0,79.5 490.0,79.4 486.0,78.3 482.0,78.5 478.0,78.3 474.0,79.4 470.0,79.6 466.0,79.4 462.0,79.3 458.0,79.3 454.0,79.5 450.0,79.6 446.0,79.7 442.0,79.4 438.0,78.9 434.0,79.7 430.0,79.4 426.0,79.7 422.0,79.4 418.0,79.7 414.0,79.8 410.0,79.6 406.0,79.8 402.0,79.5 398.0,79.6 394.0,79.5 390.0,79.5 386.0,78.3 382.0,79.5 378.0,79.6 374.0,79.9 370.0,79.6 366.0,79.9 362.0,79.8 358.0,79.9 354.0,79.4 350.0,79.6 346.0,79.5 342.0,79.7 338.0,78.2 334.0,79.7 330.0,79.6 326.0,80.0 322.0,79.7 318.0,80.0 314.0,79.6 310.0,79.7 306.0,79.7 302.0,79.8 298.0,80.0 294.0,79.6 290.0,80.1 286.0,80.0 282.0,79.8 278.0,79.9 274.0,80.0 270.0,80.0 266.0,78.5 262.0,79.9 258.0,80.0 254.0,78.7 250.0,80.0 246.0,80.1 242.0,79.9 238.0,80.0 234.0,80.1 230.0,80.1 226.0,79.8 222.0,79.8 218.0,80.1 214.0,80.0 210.0,80.0 206.0,80.0 202.0,80.1 198.0,80.1 194.0,79.9 190.0,78.8 186.0,80.0 182.0,80.2 178.0,80.2 174.0,80.3 170.0,80.1 166.0,80.0 162.0,80.3 158.0,80.4 154.0,79.9 150.0,80.0 146.0,80.4 142.0,80.1 138.0,80.3 134.0,80.3 130.0,80.3 126.0,79.3 122.0,80.0 118.0,80.0 114.0,80.0 110.0,80.1 106.0,80.3 102.0,80.0 98.0,80.2 94.0,80.2 90.0,80.5 86.0,80.2 82.0,80.2 78.0,80.2 74.0,80.2 70.0,80.5 66.0,80.2 62.0,80.3 58.0,79.0 54.0,80.2 50.0,80.4 46.0,80.5 42.0,80.3 38.0,80.5 34.0,80.4 30.0,80.5 26.0,80.4 22.0,80.7 18.0,80.3 14.0,80.3 10.0,79.5" fill="#43573f"/><polygon points="10.0,79.5 14.0,80.3 18.0,80.3 22.0,80.7 26.0,80.4 30.0,80.5 34.0,80.4 38.0,80.5 42.0,80.3 46.0,80.5 50.0,80.4 54.0,80.2 58.0,79.0 62.0,80.3 66.0,80.2 70.0,80.5 74.0,80.2 78.0,80.2 82.0,80.2 86.0,80.2 90.0,80.5 94.0,80.2 98.0,80.2 102.0,80.0 106.0,80.3 110.0,80.1 114.0,80.0 118.0,80.0 122.0,80.0 126.0,79.3 130.0,80.3 134.0,80.3 138.0,80.3 142.0,80.1 146.0,80.4 150.0,80.0 154.0,79.9 158.0,80.4 162.0,80.3 166.0,80.0 170.0,80.1 174.0,80.3 178.0,80.2 182.0,80.2 186.0,80.0 190.0,78.8 194.0,79.9 198.0,80.1 202.0,80.1 206.0,80.0 210.0,80.0 214.0,80.0 218.0,80.1 222.0,79.8 226.0,79.8 230.0,80.1 234.0,80.1 238.0,80.0 242.0,79.9 246.0,80.1 250.0,80.0 254.0,78.7 258.0,80.0 262.0,79.9 266.0,78.5 270.0,80.0 274.0,80.0 278.0,79.9 282.0,79.8 286.0,80.0 290.0,80.1 294.0,79.6 298.0,80.0 302.0,79.8 306.0,79.7 310.0,79.7 314.0,79.6 318.0,80.0 322.0,79.7 326.0,80.0 330.0,79.6 334.0,79.7 338.0,78.2 342.0,79.7 346.0,79.5 350.0,79.6 354.0,79.4 358.0,79.9 362.0,79.8 366.0,79.9 370.0,79.6 374.0,79.9 378.0,79.6 382.0,79.5 386.0,78.3 390.0,79.5 394.0,79.5 398.0,79.6 402.0,79.5 406.0,79.8 410.0,79.6 414.0,79.8 418.0,79.7 422.0,79.4 426.0,79.7 430.0,79.4 434.0,79.7 438.0,78.9 442.0,79.4 446.0,79.7 450.0,79.6 454.0,79.5 458.0,79.3 462.0,79.3 466.0,79.4 470.0,79.6 474.0,79.4 478.0,78.3 482.0,78.5 486.0,78.3 490.0,79.4 494.0,79.5 498.0,79.3 502.0,79.3 506.0,79.1 510.0,79.6 514.0,78.7 518.0,79.5 522.0,79.2 526.0,79.2 530.0,79.5 534.0,79.5 538.0,77.8 542.0,79.5 546.0,79.3 550.0,78.4 554.0,79.4 558.0,79.5 562.0,79.0 566.0,79.2 570.0,79.4 574.0,79.3 578.0,79.2 582.0,78.9 586.0,79.0 590.0,79.2 594.0,79.0 598.0,79.2 602.0,78.9 606.0,78.6 610.0,79.0 614.0,79.1 618.0,78.1 622.0,79.3 626.0,79.3 630.0,78.9 634.0,79.3 638.0,78.9 642.0,78.4 646.0,79.0 650.0,79.1 654.0,78.9 658.0,78.1 662.0,79.1 666.0,79.1 670.0,79.0 674.0,79.2 678.0,79.1 682.0,78.8 686.0,78.8 690.0,78.9 694.0,78.8 698.0,79.0 702.0,78.7 706.0,78.7 710.0,78.7 714.0,77.5 718.0,79.0 722.0,79.0 726.0,79.0 730.0,78.7 734.0,78.9 738.0,78.5 742.0,78.7 746.0,78.6 750.0,77.8 754.0,79.0 758.0,79.0 762.0,78.7 766.0,78.9 770.0,78.5 774.0,78.7 778.0,78.6 782.0,78.9 786.0,77.9 790.0,78.8 794.0,77.2 798.0,78.8 802.0,78.8 806.0,78.6 810.0,78.9 814.0,78.5 818.0,78.5 822.0,78.4 826.0,78.8 830.0,78.8 834.0,77.5 838.0,78.8 842.0,78.5 846.0,78.5 850.0,78.8 854.0,78.7 858.0,78.7 862.0,78.6 866.0,78.4 870.0,78.6 874.0,77.3 878.0,78.3 882.0,77.0 886.0,78.4 890.0,78.6 894.0,78.3 898.0,77.1 902.0,78.5 906.0,78.3 910.0,78.5 914.0,78.5 918.0,78.5 922.0,78.4 926.0,78.4 930.0,78.5 934.0,78.2 938.0,78.2 942.0,78.4 946.0,78.3 950.0,78.3 954.0,78.5 958.0,78.5 962.0,77.6 966.0,78.4 970.0,78.0 974.0,78.1 978.0,78.5 982.0,78.4 986.0,78.4 990.0,78.1 994.0,78.4 998.0,77.8 1002.0,78.0 1006.0,78.0 1010.0,78.0 1014.0,78.2 1018.0,77.9 1022.0,78.2 1026.0,78.0 1030.0,78.3 1034.0,77.9 1038.0,77.3 1042.0,78.2 1046.0,76.9 1050.0,78.0 1054.0,78.0 1058.0,78.0 1062.0,78.0 1066.0,78.2 1070.0,78.0 1074.0,78.1 1078.0,77.8 1082.0,83.0 1086.0,77.0 1090.0,77.0 1094.0,76.8 1098.0,77.1 1102.0,76.8 1106.0,76.9 1110.0,76.8 1114.0,77.0 1118.0,76.8 1122.0,77.2 1126.0,76.8 1130.0,77.2 1134.0,77.0 1138.0,77.2 1142.0,77.2 1146.0,77.2 1150.0,77.1 1154.0,77.0 1158.0,77.2 1162.0,76.9 1166.0,77.0 1170.0,76.8 1174.0,77.1 1178.0,76.8 1182.0,77.1 1186.0,77.0 1190.0,76.6 1194.0,77.1 1198.0,77.0 1202.0,77.0 1206.0,77.0 1210.0,76.8 1214.0,77.0 1218.0,77.1 1222.0,77.0 1226.0,77.0 1230.0,75.7 1234.0,76.8 1238.0,77.0 1242.0,76.6 1246.0,76.8 1250.0,77.0 1254.0,76.4 1258.0,77.2 1262.0,77.0 1266.0,77.1 1270.0,76.8 1274.0,77.0 1278.0,77.2 1282.0,77.1 1286.0,76.8 1290.0,77.1 1294.0,66.2 1298.0,66.2 1302.0,65.4 1306.0,65.9 1310.0,66.0 1314.0,65.8 1318.0,59.8 1322.0,60.1 1326.0,59.8 1330.0,59.8 1334.0,60.1 1338.0,60.2 1342.0,60.0 1346.0,59.8 1348.0,60.1 1348.0,223.1 1346.0,222.8 1342.0,222.6 1338.0,222.9 1334.0,222.7 1330.0,222.7 1326.0,222.0 1322.0,222.6 1318.0,223.2 1314.0,223.0 1310.0,222.1 1306.0,222.7 1302.0,218.0 1298.0,219.3 1294.0,218.6 1290.0,222.4 1286.0,223.0 1282.0,222.8 1278.0,222.2 1274.0,223.2 1270.0,222.8 1266.0,222.5 1262.0,222.8 1258.0,222.5 1254.0,222.5 1250.0,222.3 1246.0,222.8 1242.0,222.9 1238.0,223.0 1234.0,222.5 1230.0,222.0 1226.0,222.8 1222.0,222.3 1218.0,222.5 1214.0,222.8 1210.0,222.9 1206.0,223.1 1202.0,222.9 1198.0,223.0 1194.0,223.1 1190.0,222.9 1186.0,222.2 1182.0,222.5 1178.0,222.9 1174.0,222.7 1170.0,222.5 1166.0,223.2 1162.0,222.9 1158.0,222.5 1154.0,222.7 1150.0,222.1 1146.0,222.5 1142.0,222.8 1138.0,222.6 1134.0,222.9 1130.0,223.0 1126.0,222.5 1122.0,221.9 1118.0,222.4 1114.0,222.2 1110.0,222.0 1106.0,222.8 1102.0,222.2 1098.0,222.5 1094.0,222.9 1090.0,223.0 1086.0,223.3 1082.0,222.5 1078.0,222.3 1074.0,224.2 1070.0,223.8 1066.0,224.1 1062.0,224.2 1058.0,223.9 1054.0,223.9 1050.0,223.9 1046.0,224.0 1042.0,223.9 1038.0,223.9 1034.0,223.9 1030.0,223.9 1026.0,224.1 1022.0,224.1 1018.0,223.9 1014.0,223.9 1010.0,223.9 1006.0,224.2 1002.0,224.0 998.0,223.9 994.0,224.0 990.0,224.1 986.0,224.0 982.0,223.9 978.0,224.1 974.0,224.1 970.0,224.1 966.0,223.9 962.0,223.9 958.0,223.9 954.0,224.1 950.0,224.1 946.0,224.1 942.0,224.0 938.0,224.0 934.0,223.9 930.0,224.2 926.0,224.0 922.0,224.0 918.0,224.2 914.0,223.9 910.0,223.9 906.0,223.8 902.0,224.2 898.0,223.8 894.0,224.2 890.0,224.0 886.0,224.0 882.0,223.9 878.0,224.1 874.0,224.1 870.0,224.1 866.0,224.1 862.0,223.8 858.0,224.1 854.0,221.3 850.0,221.5 846.0,221.6 842.0,223.9 838.0,223.9 834.0,224.2 830.0,223.9 826.0,224.1 822.0,223.9 818.0,224.0 814.0,223.9 810.0,224.1 806.0,224.0 802.0,224.0 798.0,223.8 794.0,224.2 790.0,224.1 786.0,223.9 782.0,223.8 778.0,223.9 774.0,224.1 770.0,223.8 766.0,224.1 762.0,223.9 758.0,224.0 754.0,224.1 750.0,223.9 746.0,224.1 742.0,224.0 738.0,224.0 734.0,223.8 730.0,224.0 726.0,224.1 722.0,224.0 718.0,224.2 714.0,223.9 710.0,223.9 706.0,224.1 702.0,223.9 698.0,223.9 694.0,223.8 690.0,224.0 686.0,223.9 682.0,223.9 678.0,224.1 674.0,223.8 670.0,225.3 666.0,223.9 662.0,224.1 658.0,224.1 654.0,224.1 650.0,224.1 646.0,224.1 642.0,223.8 638.0,223.8 634.0,223.9 630.0,223.8 626.0,224.2 622.0,224.2 618.0,224.1 614.0,223.8 610.0,224.2 606.0,224.1 602.0,224.1 598.0,223.9 594.0,224.0 590.0,223.8 586.0,224.1 582.0,224.1 578.0,224.1 574.0,224.1 570.0,223.8 566.0,223.8 562.0,225.4 558.0,225.4 554.0,224.2 550.0,223.8 546.0,223.8 542.0,223.9 538.0,224.2 534.0,223.8 530.0,224.0 526.0,223.9 522.0,223.9 518.0,224.0 514.0,224.1 510.0,224.0 506.0,224.1 502.0,224.1 498.0,224.1 494.0,224.0 490.0,224.2 486.0,224.1 482.0,224.1 478.0,224.1 474.0,224.2 470.0,223.9 466.0,223.9 462.0,224.2 458.0,223.9 454.0,224.1 450.0,224.2 446.0,224.1 442.0,223.9 438.0,223.9 434.0,223.8 430.0,224.2 426.0,223.9 422.0,224.2 418.0,224.1 414.0,223.9 410.0,221.0 406.0,221.1 402.0,221.0 398.0,224.0 394.0,223.9 390.0,224.1 386.0,224.1 382.0,224.1 378.0,224.1 374.0,223.9 370.0,223.8 366.0,223.9 362.0,223.8 358.0,223.9 354.0,224.0 350.0,224.1 346.0,224.0 342.0,224.1 338.0,224.1 334.0,223.8 330.0,224.1 326.0,224.1 322.0,224.2 318.0,223.8 314.0,223.9 310.0,223.9 306.0,223.9 302.0,224.1 298.0,224.1 294.0,224.0 290.0,224.0 286.0,223.9 282.0,223.9 278.0,224.2 274.0,224.0 270.0,223.8 266.0,224.1 262.0,223.8 258.0,223.9 254.0,224.0 250.0,224.0 246.0,223.8 242.0,224.2 238.0,223.9 234.0,224.1 230.0,224.2 226.0,224.0 222.0,224.1 218.0,223.9 214.0,224.0 210.0,224.1 206.0,223.8 202.0,223.9 198.0,224.0 194.0,224.1 190.0,224.1 186.0,224.1 182.0,223.8 178.0,223.9 174.0,223.9 170.0,224.2 166.0,223.9 162.0,224.0 158.0,224.0 154.0,223.9 150.0,224.0 146.0,224.0 142.0,223.9 138.0,223.9 134.0,223.8 130.0,223.9 126.0,223.8 122.0,223.8 118.0,224.1 114.0,223.9 110.0,223.9 106.0,224.2 102.0,224.0 98.0,224.0 94.0,224.0 90.0,223.9 86.0,223.8 82.0,223.8 78.0,223.9 74.0,225.6 70.0,225.5 66.0,224.2 62.0,224.1 58.0,223.9 54.0,224.1 50.0,223.8 46.0,224.1 42.0,223.9 38.0,224.0 34.0,224.1 30.0,223.9 26.0,224.0 22.0,224.2 18.0,223.9 14.0,224.1 10.0,224.0" fill="#162133"/><polygon points="10.0,224.0 14.0,224.1 18.0,223.9 22.0,224.2 26.0,224.0 30.0,223.9 34.0,224.1 38.0,224.0 42.0,223.9 46.0,224.1 50.0,223.8 54.0,224.1 58.0,223.9 62.0,224.1 66.0,224.2 70.0,225.5 74.0,225.6 78.0,223.9 82.0,223.8 86.0,223.8 90.0,223.9 94.0,224.0 98.0,224.0 102.0,224.0 106.0,224.2 110.0,223.9 114.0,223.9 118.0,224.1 122.0,223.8 126.0,223.8 130.0,223.9 134.0,223.8 138.0,223.9 142.0,223.9 146.0,224.0 150.0,224.0 154.0,223.9 158.0,224.0 162.0,224.0 166.0,223.9 170.0,224.2 174.0,223.9 178.0,223.9 182.0,223.8 186.0,224.1 190.0,224.1 194.0,224.1 198.0,224.0 202.0,223.9 206.0,223.8 210.0,224.1 214.0,224.0 218.0,223.9 222.0,224.1 226.0,224.0 230.0,224.2 234.0,224.1 238.0,223.9 242.0,224.2 246.0,223.8 250.0,224.0 254.0,224.0 258.0,223.9 262.0,223.8 266.0,224.1 270.0,223.8 274.0,224.0 278.0,224.2 282.0,223.9 286.0,223.9 290.0,224.0 294.0,224.0 298.0,224.1 302.0,224.1 306.0,223.9 310.0,223.9 314.0,223.9 318.0,223.8 322.0,224.2 326.0,224.1 330.0,224.1 334.0,223.8 338.0,224.1 342.0,224.1 346.0,224.0 350.0,224.1 354.0,224.0 358.0,223.9 362.0,223.8 366.0,223.9 370.0,223.8 374.0,223.9 378.0,224.1 382.0,224.1 386.0,224.1 390.0,224.1 394.0,223.9 398.0,224.0 402.0,221.0 406.0,221.1 410.0,221.0 414.0,223.9 418.0,224.1 422.0,224.2 426.0,223.9 430.0,224.2 434.0,223.8 438.0,223.9 442.0,223.9 446.0,224.1 450.0,224.2 454.0,224.1 458.0,223.9 462.0,224.2 466.0,223.9 470.0,223.9 474.0,224.2 478.0,224.1 482.0,224.1 486.0,224.1 490.0,224.2 494.0,224.0 498.0,224.1 502.0,224.1 506.0,224.1 510.0,224.0 514.0,224.1 518.0,224.0 522.0,223.9 526.0,223.9 530.0,224.0 534.0,223.8 538.0,224.2 542.0,223.9 546.0,223.8 550.0,223.8 554.0,224.2 558.0,225.4 562.0,225.4 566.0,223.8 570.0,223.8 574.0,224.1 578.0,224.1 582.0,224.1 586.0,224.1 590.0,223.8 594.0,224.0 598.0,223.9 602.0,224.1 606.0,224.1 610.0,224.2 614.0,223.8 618.0,224.1 622.0,224.2 626.0,224.2 630.0,223.8 634.0,223.9 638.0,223.8 642.0,223.8 646.0,224.1 650.0,224.1 654.0,224.1 658.0,224.1 662.0,224.1 666.0,223.9 670.0,225.3 674.0,223.8 678.0,224.1 682.0,223.9 686.0,223.9 690.0,224.0 694.0,223.8 698.0,223.9 702.0,223.9 706.0,224.1 710.0,223.9 714.0,223.9 718.0,224.2 722.0,224.0 726.0,224.1 730.0,224.0 734.0,223.8 738.0,224.0 742.0,224.0 746.0,224.1 750.0,223.9 754.0,224.1 758.0,224.0 762.0,223.9 766.0,224.1 770.0,223.8 774.0,224.1 778.0,223.9 782.0,223.8 786.0,223.9 790.0,224.1 794.0,224.2 798.0,223.8 802.0,224.0 806.0,224.0 810.0,224.1 814.0,223.9 818.0,224.0 822.0,223.9 826.0,224.1 830.0,223.9 834.0,224.2 838.0,223.9 842.0,223.9 846.0,221.6 850.0,221.5 854.0,221.3 858.0,224.1 862.0,223.8 866.0,224.1 870.0,224.1 874.0,224.1 878.0,224.1 882.0,223.9 886.0,224.0 890.0,224.0 894.0,224.2 898.0,223.8 902.0,224.2 906.0,223.8 910.0,223.9 914.0,223.9 918.0,224.2 922.0,224.0 926.0,224.0 930.0,224.2 934.0,223.9 938.0,224.0 942.0,224.0 946.0,224.1 950.0,224.1 954.0,224.1 958.0,223.9 962.0,223.9 966.0,223.9 970.0,224.1 974.0,224.1 978.0,224.1 982.0,223.9 986.0,224.0 990.0,224.1 994.0,224.0 998.0,223.9 1002.0,224.0 1006.0,224.2 1010.0,223.9 1014.0,223.9 1018.0,223.9 1022.0,224.1 1026.0,224.1 1030.0,223.9 1034.0,223.9 1038.0,223.9 1042.0,223.9 1046.0,224.0 1050.0,223.9 1054.0,223.9 1058.0,223.9 1062.0,224.2 1066.0,224.1 1070.0,223.8 1074.0,224.2 1078.0,222.3 1082.0,222.5 1086.0,223.3 1090.0,223.0 1094.0,222.9 1098.0,222.5 1102.0,222.2 1106.0,222.8 1110.0,222.0 1114.0,222.2 1118.0,222.4 1122.0,221.9 1126.0,222.5 1130.0,223.0 1134.0,222.9 1138.0,222.6 1142.0,222.8 1146.0,222.5 1150.0,222.1 1154.0,222.7 1158.0,222.5 1162.0,222.9 1166.0,223.2 1170.0,222.5 1174.0,222.7 1178.0,222.9 1182.0,222.5 1186.0,222.2 1190.0,222.9 1194.0,223.1 1198.0,223.0 1202.0,222.9 1206.0,223.1 1210.0,222.9 1214.0,222.8 1218.0,222.5 1222.0,222.3 1226.0,222.8 1230.0,222.0 1234.0,222.5 1238.0,223.0 1242.0,222.9 1246.0,222.8 1250.0,222.3 1254.0,222.5 1258.0,222.5 1262.0,222.8 1266.0,222.5 1270.0,222.8 1274.0,223.2 1278.0,222.2 1282.0,222.8 1286.0,223.0 1290.0,222.4 1294.0,218.6 1298.0,219.3 1302.0,218.0 1306.0,222.7 1310.0,222.1 1314.0,223.0 1318.0,223.2 1322.0,222.6 1326.0,222.0 1330.0,222.7 1334.0,222.7 1338.0,222.9 1342.0,222.6 1346.0,222.8 1348.0,223.1 1348.0,300.0 10.0,300.0" fill="#6c5f30"/><line x1="69.5" y1="20" x2="69.5" y2="308" stroke="rgba(204,204,220,0.08)" stroke-width="2"/><line x1="181.0" y1="20" x2="181.0" y2="308" stroke="rgba(204,204,220,0.08)" stroke-width="2"/><line x1="292.5" y1="20" x2="292.5" y2="308" stroke="rgba(204,204,220,0.08)" stroke-width="2"/><line x1="404.0" y1="20" x2="404.0" y2="308" stroke="rgba(204,204,220,0.08)" stroke-width="2"/><line x1="515.5" y1="20" x2="515.5" y2="308" stroke="rgba(204,204,220,0.08)" stroke-width="2"/><line x1="627.0" y1="20" x2="627.0" y2="308" stroke="rgba(204,204,220,0.08)" stroke-width="2"/><line x1="738.5" y1="20" x2="738.5" y2="308" stroke="rgba(204,204,220,0.08)" stroke-width="2"/><line x1="850.0" y1="20" x2="850.0" y2="308" stroke="rgba(204,204,220,0.08)" stroke-width="2"/><line x1="961.5" y1="20" x2="961.5" y2="308" stroke="rgba(204,204,220,0.08)" stroke-width="2"/><line x1="1073.0" y1="20" x2="1073.0" y2="308" stroke="rgba(204,204,220,0.08)" stroke-width="2"/><line x1="1184.5" y1="20" x2="1184.5" y2="308" stroke="rgba(204,204,220,0.08)" stroke-width="2"/><line x1="1296.0" y1="20" x2="1296.0" y2="308" stroke="rgba(204,204,220,0.08)" stroke-width="2"/><polyline points="10.0,79.5 14.0,80.3 18.0,80.3 22.0,80.7 26.0,80.4 30.0,80.5 34.0,80.4 38.0,80.5 42.0,80.3 46.0,80.5 50.0,80.4 54.0,80.2 58.0,79.0 62.0,80.3 66.0,80.2 70.0,80.5 74.0,80.2 78.0,80.2 82.0,80.2 86.0,80.2 90.0,80.5 94.0,80.2 98.0,80.2 102.0,80.0 106.0,80.3 110.0,80.1 114.0,80.0 118.0,80.0 122.0,80.0 126.0,79.3 130.0,80.3 134.0,80.3 138.0,80.3 142.0,80.1 146.0,80.4 150.0,80.0 154.0,79.9 158.0,80.4 162.0,80.3 166.0,80.0 170.0,80.1 174.0,80.3 178.0,80.2 182.0,80.2 186.0,80.0 190.0,78.8 194.0,79.9 198.0,80.1 202.0,80.1 206.0,80.0 210.0,80.0 214.0,80.0 218.0,80.1 222.0,79.8 226.0,79.8 230.0,80.1 234.0,80.1 238.0,80.0 242.0,79.9 246.0,80.1 250.0,80.0 254.0,78.7 258.0,80.0 262.0,79.9 266.0,78.5 270.0,80.0 274.0,80.0 278.0,79.9 282.0,79.8 286.0,80.0 290.0,80.1 294.0,79.6 298.0,80.0 302.0,79.8 306.0,79.7 310.0,79.7 314.0,79.6 318.0,80.0 322.0,79.7 326.0,80.0 330.0,79.6 334.0,79.7 338.0,78.2 342.0,79.7 346.0,79.5 350.0,79.6 354.0,79.4 358.0,79.9 362.0,79.8 366.0,79.9 370.0,79.6 374.0,79.9 378.0,79.6 382.0,79.5 386.0,78.3 390.0,79.5 394.0,79.5 398.0,79.6 402.0,79.5 406.0,79.8 410.0,79.6 414.0,79.8 418.0,79.7 422.0,79.4 426.0,79.7 430.0,79.4 434.0,79.7 438.0,78.9 442.0,79.4 446.0,79.7 450.0,79.6 454.0,79.5 458.0,79.3 462.0,79.3 466.0,79.4 470.0,79.6 474.0,79.4 478.0,78.3 482.0,78.5 486.0,78.3 490.0,79.4 494.0,79.5 498.0,79.3 502.0,79.3 506.0,79.1 510.0,79.6 514.0,78.7 518.0,79.5 522.0,79.2 526.0,79.2 530.0,79.5 534.0,79.5 538.0,77.8 542.0,79.5 546.0,79.3 550.0,78.4 554.0,79.4 558.0,79.5 562.0,79.0 566.0,79.2 570.0,79.4 574.0,79.3 578.0,79.2 582.0,78.9 586.0,79.0 590.0,79.2 594.0,79.0 598.0,79.2 602.0,78.9 606.0,78.6 610.0,79.0 614.0,79.1 618.0,78.1 622.0,79.3 626.0,79.3 630.0,78.9 634.0,79.3 638.0,78.9 642.0,78.4 646.0,79.0 650.0,79.1 654.0,78.9 658.0,78.1 662.0,79.1 666.0,79.1 670.0,79.0 674.0,79.2 678.0,79.1 682.0,78.8 686.0,78.8 690.0,78.9 694.0,78.8 698.0,79.0 702.0,78.7 706.0,78.7 710.0,78.7 714.0,77.5 718.0,79.0 722.0,79.0 726.0,79.0 730.0,78.7 734.0,78.9 738.0,78.5 742.0,78.7 746.0,78.6 750.0,77.8 754.0,79.0 758.0,79.0 762.0,78.7 766.0,78.9 770.0,78.5 774.0,78.7 778.0,78.6 782.0,78.9 786.0,77.9 790.0,78.8 794.0,77.2 798.0,78.8 802.0,78.8 806.0,78.6 810.0,78.9 814.0,78.5 818.0,78.5 822.0,78.4 826.0,78.8 830.0,78.8 834.0,77.5 838.0,78.8 842.0,78.5 846.0,78.5 850.0,78.8 854.0,78.7 858.0,78.7 862.0,78.6 866.0,78.4 870.0,78.6 874.0,77.3 878.0,78.3 882.0,77.0 886.0,78.4 890.0,78.6 894.0,78.3 898.0,77.1 902.0,78.5 906.0,78.3 910.0,78.5 914.0,78.5 918.0,78.5 922.0,78.4 926.0,78.4 930.0,78.5 934.0,78.2 938.0,78.2 942.0,78.4 946.0,78.3 950.0,78.3 954.0,78.5 958.0,78.5 962.0,77.6 966.0,78.4 970.0,78.0 974.0,78.1 978.0,78.5 982.0,78.4 986.0,78.4 990.0,78.1 994.0,78.4 998.0,77.8 1002.0,78.0 1006.0,78.0 1010.0,78.0 1014.0,78.2 1018.0,77.9 1022.0,78.2 1026.0,78.0 1030.0,78.3 1034.0,77.9 1038.0,77.3 1042.0,78.2 1046.0,76.9 1050.0,78.0 1054.0,78.0 1058.0,78.0 1062.0,78.0 1066.0,78.2 1070.0,78.0 1074.0,78.1 1078.0,77.8 1082.0,83.0 1086.0,77.0 1090.0,77.0 1094.0,76.8 1098.0,77.1 1102.0,76.8 1106.0,76.9 1110.0,76.8 1114.0,77.0 1118.0,76.8 1122.0,77.2 1126.0,76.8 1130.0,77.2 1134.0,77.0 1138.0,77.2 1142.0,77.2 1146.0,77.2 1150.0,77.1 1154.0,77.0 1158.0,77.2 1162.0,76.9 1166.0,77.0 1170.0,76.8 1174.0,77.1 1178.0,76.8 1182.0,77.1 1186.0,77.0 1190.0,76.6 1194.0,77.1 1198.0,77.0 1202.0,77.0 1206.0,77.0 1210.0,76.8 1214.0,77.0 1218.0,77.1 1222.0,77.0 1226.0,77.0 1230.0,75.7 1234.0,76.8 1238.0,77.0 1242.0,76.6 1246.0,76.8 1250.0,77.0 1254.0,76.4 1258.0,77.2 1262.0,77.0 1266.0,77.1 1270.0,76.8 1274.0,77.0 1278.0,77.2 1282.0,77.1 1286.0,76.8 1290.0,77.1 1294.0,66.2 1298.0,66.2 1302.0,65.4 1306.0,65.9 1310.0,66.0 1314.0,65.8 1318.0,59.8 1322.0,60.1 1326.0,59.8 1330.0,59.8 1334.0,60.1 1338.0,60.2 1342.0,60.0 1346.0,59.8 1348.0,60.1" fill="none" stroke="#1d4d7d" stroke-width="1.6"/><polyline points="10.0,224.0 14.0,224.1 18.0,223.9 22.0,224.2 26.0,224.0 30.0,223.9 34.0,224.1 38.0,224.0 42.0,223.9 46.0,224.1 50.0,223.8 54.0,224.1 58.0,223.9 62.0,224.1 66.0,224.2 70.0,225.5 74.0,225.6 78.0,223.9 82.0,223.8 86.0,223.8 90.0,223.9 94.0,224.0 98.0,224.0 102.0,224.0 106.0,224.2 110.0,223.9 114.0,223.9 118.0,224.1 122.0,223.8 126.0,223.8 130.0,223.9 134.0,223.8 138.0,223.9 142.0,223.9 146.0,224.0 150.0,224.0 154.0,223.9 158.0,224.0 162.0,224.0 166.0,223.9 170.0,224.2 174.0,223.9 178.0,223.9 182.0,223.8 186.0,224.1 190.0,224.1 194.0,224.1 198.0,224.0 202.0,223.9 206.0,223.8 210.0,224.1 214.0,224.0 218.0,223.9 222.0,224.1 226.0,224.0 230.0,224.2 234.0,224.1 238.0,223.9 242.0,224.2 246.0,223.8 250.0,224.0 254.0,224.0 258.0,223.9 262.0,223.8 266.0,224.1 270.0,223.8 274.0,224.0 278.0,224.2 282.0,223.9 286.0,223.9 290.0,224.0 294.0,224.0 298.0,224.1 302.0,224.1 306.0,223.9 310.0,223.9 314.0,223.9 318.0,223.8 322.0,224.2 326.0,224.1 330.0,224.1 334.0,223.8 338.0,224.1 342.0,224.1 346.0,224.0 350.0,224.1 354.0,224.0 358.0,223.9 362.0,223.8 366.0,223.9 370.0,223.8 374.0,223.9 378.0,224.1 382.0,224.1 386.0,224.1 390.0,224.1 394.0,223.9 398.0,224.0 402.0,221.0 406.0,221.1 410.0,221.0 414.0,223.9 418.0,224.1 422.0,224.2 426.0,223.9 430.0,224.2 434.0,223.8 438.0,223.9 442.0,223.9 446.0,224.1 450.0,224.2 454.0,224.1 458.0,223.9 462.0,224.2 466.0,223.9 470.0,223.9 474.0,224.2 478.0,224.1 482.0,224.1 486.0,224.1 490.0,224.2 494.0,224.0 498.0,224.1 502.0,224.1 506.0,224.1 510.0,224.0 514.0,224.1 518.0,224.0 522.0,223.9 526.0,223.9 530.0,224.0 534.0,223.8 538.0,224.2 542.0,223.9 546.0,223.8 550.0,223.8 554.0,224.2 558.0,225.4 562.0,225.4 566.0,223.8 570.0,223.8 574.0,224.1 578.0,224.1 582.0,224.1 586.0,224.1 590.0,223.8 594.0,224.0 598.0,223.9 602.0,224.1 606.0,224.1 610.0,224.2 614.0,223.8 618.0,224.1 622.0,224.2 626.0,224.2 630.0,223.8 634.0,223.9 638.0,223.8 642.0,223.8 646.0,224.1 650.0,224.1 654.0,224.1 658.0,224.1 662.0,224.1 666.0,223.9 670.0,225.3 674.0,223.8 678.0,224.1 682.0,223.9 686.0,223.9 690.0,224.0 694.0,223.8 698.0,223.9 702.0,223.9 706.0,224.1 710.0,223.9 714.0,223.9 718.0,224.2 722.0,224.0 726.0,224.1 730.0,224.0 734.0,223.8 738.0,224.0 742.0,224.0 746.0,224.1 750.0,223.9 754.0,224.1 758.0,224.0 762.0,223.9 766.0,224.1 770.0,223.8 774.0,224.1 778.0,223.9 782.0,223.8 786.0,223.9 790.0,224.1 794.0,224.2 798.0,223.8 802.0,224.0 806.0,224.0 810.0,224.1 814.0,223.9 818.0,224.0 822.0,223.9 826.0,224.1 830.0,223.9 834.0,224.2 838.0,223.9 842.0,223.9 846.0,221.6 850.0,221.5 854.0,221.3 858.0,224.1 862.0,223.8 866.0,224.1 870.0,224.1 874.0,224.1 878.0,224.1 882.0,223.9 886.0,224.0 890.0,224.0 894.0,224.2 898.0,223.8 902.0,224.2 906.0,223.8 910.0,223.9 914.0,223.9 918.0,224.2 922.0,224.0 926.0,224.0 930.0,224.2 934.0,223.9 938.0,224.0 942.0,224.0 946.0,224.1 950.0,224.1 954.0,224.1 958.0,223.9 962.0,223.9 966.0,223.9 970.0,224.1 974.0,224.1 978.0,224.1 982.0,223.9 986.0,224.0 990.0,224.1 994.0,224.0 998.0,223.9 1002.0,224.0 1006.0,224.2 1010.0,223.9 1014.0,223.9 1018.0,223.9 1022.0,224.1 1026.0,224.1 1030.0,223.9 1034.0,223.9 1038.0,223.9 1042.0,223.9 1046.0,224.0 1050.0,223.9 1054.0,223.9 1058.0,223.9 1062.0,224.2 1066.0,224.1 1070.0,223.8 1074.0,224.2 1078.0,222.3 1082.0,222.5 1086.0,223.3 1090.0,223.0 1094.0,222.9 1098.0,222.5 1102.0,222.2 1106.0,222.8 1110.0,222.0 1114.0,222.2 1118.0,222.4 1122.0,221.9 1126.0,222.5 1130.0,223.0 1134.0,222.9 1138.0,222.6 1142.0,222.8 1146.0,222.5 1150.0,222.1 1154.0,222.7 1158.0,222.5 1162.0,222.9 1166.0,223.2 1170.0,222.5 1174.0,222.7 1178.0,222.9 1182.0,222.5 1186.0,222.2 1190.0,222.9 1194.0,223.1 1198.0,223.0 1202.0,222.9 1206.0,223.1 1210.0,222.9 1214.0,222.8 1218.0,222.5 1222.0,222.3 1226.0,222.8 1230.0,222.0 1234.0,222.5 1238.0,223.0 1242.0,222.9 1246.0,222.8 1250.0,222.3 1254.0,222.5 1258.0,222.5 1262.0,222.8 1266.0,222.5 1270.0,222.8 1274.0,223.2 1278.0,222.2 1282.0,222.8 1286.0,223.0 1290.0,222.4 1294.0,218.6 1298.0,219.3 1302.0,218.0 1306.0,222.7 1310.0,222.1 1314.0,223.0 1318.0,223.2 1322.0,222.6 1326.0,222.0 1330.0,222.7 1334.0,222.7 1338.0,222.9 1342.0,222.6 1346.0,222.8 1348.0,223.1" fill="none" stroke="#e8c93a" stroke-width="2"/><line x1="10" y1="53.200000000000045" x2="1348" y2="53.200000000000045" stroke="#8dbd7c" stroke-width="2"/><line x1="10" y1="48" x2="1348" y2="48" stroke="#c5321f" stroke-width="2.2"/></svg><div style="position:absolute;top:819.64px;font-size:25px;line-height:25px;color:#ccccdc;white-space:nowrap;-webkit-text-stroke:0.3px #ccccdc;letter-spacing:0.6px;right:1410.90px;">4 GiB</div><div style="position:absolute;top:886.34px;font-size:25px;line-height:25px;color:#ccccdc;white-space:nowrap;-webkit-text-stroke:0.3px #ccccdc;letter-spacing:0.6px;right:1410.90px;">3 GiB</div><div style="position:absolute;top:953.04px;font-size:25px;line-height:25px;color:#ccccdc;white-space:nowrap;-webkit-text-stroke:0.3px #ccccdc;letter-spacing:0.6px;right:1410.90px;">2 GiB</div><div style="position:absolute;top:1019.64px;font-size:25px;line-height:25px;color:#ccccdc;white-space:nowrap;-webkit-text-stroke:0.3px #ccccdc;letter-spacing:0.6px;right:1410.90px;">1 GiB</div><div style="position:absolute;top:1086.34px;font-size:25px;line-height:25px;color:#ccccdc;white-space:nowrap;-webkit-text-stroke:0.3px #ccccdc;letter-spacing:0.6px;right:1410.90px;">0 B</div><div style="position:absolute;top:1115.84px;font-size:25px;line-height:25px;color:#ccccdc;white-space:nowrap;-webkit-text-stroke:0.3px #ccccdc;letter-spacing:0.6px;left:679.80px;width:2000px;text-align:center;">01:30</div><div style="position:absolute;top:1115.84px;font-size:25px;line-height:25px;color:#ccccdc;white-space:nowrap;-webkit-text-stroke:0.3px #ccccdc;letter-spacing:0.6px;left:791.30px;width:2000px;text-align:center;">02:00</div><div style="position:absolute;top:1115.84px;font-size:25px;line-height:25px;color:#ccccdc;white-space:nowrap;-webkit-text-stroke:0.3px #ccccdc;letter-spacing:0.6px;left:902.80px;width:2000px;text-align:center;">02:30</div><div style="position:absolute;top:1115.84px;font-size:25px;line-height:25px;color:#ccccdc;white-space:nowrap;-webkit-text-stroke:0.3px #ccccdc;letter-spacing:0.6px;left:1014.30px;width:2000px;text-align:center;">03:00</div><div style="position:absolute;top:1115.84px;font-size:25px;line-height:25px;color:#ccccdc;white-space:nowrap;-webkit-text-stroke:0.3px #ccccdc;letter-spacing:0.6px;left:1125.80px;width:2000px;text-align:center;">03:30</div><div style="position:absolute;top:1115.84px;font-size:25px;line-height:25px;color:#ccccdc;white-space:nowrap;-webkit-text-stroke:0.3px #ccccdc;letter-spacing:0.6px;left:1237.30px;width:2000px;text-align:center;">04:00</div><div style="position:absolute;top:1115.84px;font-size:25px;line-height:25px;color:#ccccdc;white-space:nowrap;-webkit-text-stroke:0.3px #ccccdc;letter-spacing:0.6px;left:1348.80px;width:2000px;text-align:center;">04:30</div><div style="position:absolute;top:1115.84px;font-size:25px;line-height:25px;color:#ccccdc;white-space:nowrap;-webkit-text-stroke:0.3px #ccccdc;letter-spacing:0.6px;left:1460.30px;width:2000px;text-align:center;">05:00</div><div style="position:absolute;top:1115.84px;font-size:25px;line-height:25px;color:#ccccdc;white-space:nowrap;-webkit-text-stroke:0.3px #ccccdc;letter-spacing:0.6px;left:1571.80px;width:2000px;text-align:center;">05:30</div><div style="position:absolute;top:1115.84px;font-size:25px;line-height:25px;color:#ccccdc;white-space:nowrap;-webkit-text-stroke:0.3px #ccccdc;letter-spacing:0.6px;left:1683.30px;width:2000px;text-align:center;">06:00</div><div style="position:absolute;top:1115.84px;font-size:25px;line-height:25px;color:#ccccdc;white-space:nowrap;-webkit-text-stroke:0.3px #ccccdc;letter-spacing:0.6px;left:1794.80px;width:2000px;text-align:center;">06:30</div><div style="position:absolute;top:1115.84px;font-size:25px;line-height:25px;color:#ccccdc;white-space:nowrap;-webkit-text-stroke:0.3px #ccccdc;letter-spacing:0.6px;left:1906.30px;width:2000px;text-align:center;">07:00</div><div style="position:absolute;left:1546px;top:1167px;width:28px;height:8px;background:#e0f9d7;box-sizing:border-box;border-radius:4px;"></div><div style="position:absolute;top:1159.46px;font-size:24.5px;line-height:24.5px;color:#ccccdc;white-space:nowrap;-webkit-text-stroke:0.35px #ccccdc;letter-spacing:0.7px;left:1588.70px;">RAM Total</div><div style="position:absolute;left:1728px;top:1167px;width:28px;height:8px;background:#eccc3c;box-sizing:border-box;border-radius:4px;"></div><div style="position:absolute;top:1159.46px;font-size:24.5px;line-height:24.5px;color:#ccccdc;white-space:nowrap;-webkit-text-stroke:0.35px #ccccdc;letter-spacing:0.7px;left:1769.70px;">RAM Used</div><div style="position:absolute;left:1913px;top:1167px;width:28px;height:8px;background:#0f2f57;box-sizing:border-box;border-radius:4px;"></div><div style="position:absolute;top:1159.46px;font-size:24.5px;line-height:24.5px;color:#ccccdc;white-space:nowrap;-webkit-text-stroke:0.35px #ccccdc;letter-spacing:0.7px;left:1955.70px;">RAM Cache + Buffer</div><div style="position:absolute;left:2212px;top:1167px;width:28px;height:8px;background:#7eb26d;box-sizing:border-box;border-radius:4px;"></div><div style="position:absolute;top:1159.46px;font-size:24.5px;line-height:24.5px;color:#ccccdc;white-space:nowrap;-webkit-text-stroke:0.35px #ccccdc;letter-spacing:0.7px;left:2254.70px;">RAM Free</div><div style="position:absolute;left:2388px;top:1167px;width:28px;height:8px;background:#c8341e;box-sizing:border-box;border-radius:4px;"></div><div style="position:absolute;top:1159.46px;font-size:24.5px;line-height:24.5px;color:#ccccdc;white-space:nowrap;-webkit-text-stroke:0.35px #ccccdc;letter-spacing:0.7px;left:2430.70px;">SWAP Used</div><div style="position:absolute;left:32px;top:1254px;width:1472px;height:516px;background:#1b1c20;box-sizing:border-box;border:2px solid #303136;border-radius:4px;"></div><div style="position:absolute;top:1274.45px;font-size:29px;line-height:29px;color:#ccccdc;white-space:nowrap;-webkit-text-stroke:0.9px #ccccdc;letter-spacing:0.45px;left:48.80px;">Network Traffic Basic</div><svg style="position:absolute;left:378px;top:1275px;" width="27" height="27" viewBox="0 0 27 27"><circle cx="13.5" cy="13.5" r="12" fill="none" stroke="#9a9ba3" stroke-width="2.3"/><circle cx="13.5" cy="9" r="1.6" fill="#9a9ba3"/><line x1="13.5" y1="12.8" x2="13.5" y2="18.6" stroke="#9a9ba3" stroke-width="2.6" stroke-linecap="round"/></svg><svg style="position:absolute;left:130px;top:1340px;" width="1344" height="270" viewBox="0 0 1344 270"><line x1="17.5" y1="57.5" x2="1340" y2="57.5" stroke="rgba(204,204,220,0.085)" stroke-width="2"/><line x1="17.5" y1="133" x2="1340" y2="133" stroke="rgba(204,204,220,0.085)" stroke-width="2"/><line x1="17.5" y1="208.4000000000001" x2="1340" y2="208.4000000000001" stroke="rgba(204,204,220,0.085)" stroke-width="2"/><line x1="76.5" y1="12" x2="76.5" y2="254" stroke="rgba(204,204,220,0.085)" stroke-width="2"/><line x1="186.7" y1="12" x2="186.7" y2="254" stroke="rgba(204,204,220,0.085)" stroke-width="2"/><line x1="296.9" y1="12" x2="296.9" y2="254" stroke="rgba(204,204,220,0.085)" stroke-width="2"/><line x1="407.1" y1="12" x2="407.1" y2="254" stroke="rgba(204,204,220,0.085)" stroke-width="2"/><line x1="517.3" y1="12" x2="517.3" y2="254" stroke="rgba(204,204,220,0.085)" stroke-width="2"/><line x1="627.5" y1="12" x2="627.5" y2="254" stroke="rgba(204,204,220,0.085)" stroke-width="2"/><line x1="737.7" y1="12" x2="737.7" y2="254" stroke="rgba(204,204,220,0.085)" stroke-width="2"/><line x1="847.9" y1="12" x2="847.9" y2="254" stroke="rgba(204,204,220,0.085)" stroke-width="2"/><line x1="958.1" y1="12" x2="958.1" y2="254" stroke="rgba(204,204,220,0.085)" stroke-width="2"/><line x1="1068.3" y1="12" x2="1068.3" y2="254" stroke="rgba(204,204,220,0.085)" stroke-width="2"/><line x1="1178.5" y1="12" x2="1178.5" y2="254" stroke="rgba(204,204,220,0.085)" stroke-width="2"/><line x1="1288.7" y1="12" x2="1288.7" y2="254" stroke="rgba(204,204,220,0.085)" stroke-width="2"/><polygon points="1075.5,208.0 1078.7,31.0 1082.0,208.0" fill="#4b6fb8" stroke="#6e9fff" stroke-width="2"/><polygon points="1305.0,208.0 1308.0,198.0 1311.0,208.0" fill="#6e9fff"/><polygon points="1306.0,209.0 1308.0,226.0 1310.0,209.0" fill="#c4682a"/><polygon points="1076.0,209.0 1079.0,218.0 1082.0,209.0" fill="#c4682a"/><line x1="17.5" y1="207.5999999999999" x2="1340" y2="207.5999999999999" stroke="#e0832f" stroke-width="2"/><line x1="17.5" y1="209.5999999999999" x2="1340" y2="209.5999999999999" stroke="#e5c43a" stroke-width="1.6"/></svg><div style="position:absolute;top:1383.84px;font-size:25px;line-height:25px;color:#ccccdc;white-space:nowrap;-webkit-text-stroke:0.3px #ccccdc;letter-spacing:0.6px;right:2883.20px;">4 Mb/s</div><div style="position:absolute;top:1459.34px;font-size:25px;line-height:25px;color:#ccccdc;white-space:nowrap;-webkit-text-stroke:0.3px #ccccdc;letter-spacing:0.6px;right:2883.20px;">2 Mb/s</div><div style="position:absolute;top:1534.74px;font-size:25px;line-height:25px;color:#ccccdc;white-space:nowrap;-webkit-text-stroke:0.3px #ccccdc;letter-spacing:0.6px;right:2883.20px;">0 b/s</div><div style="position:absolute;top:1602.34px;font-size:25px;line-height:25px;color:#ccccdc;white-space:nowrap;-webkit-text-stroke:0.3px #ccccdc;letter-spacing:0.6px;left:-793.20px;width:2000px;text-align:center;">01:30</div><div style="position:absolute;top:1602.34px;font-size:25px;line-height:25px;color:#ccccdc;white-space:nowrap;-webkit-text-stroke:0.3px #ccccdc;letter-spacing:0.6px;left:-683.00px;width:2000px;text-align:center;">02:00</div><div style="position:absolute;top:1602.34px;font-size:25px;line-height:25px;color:#ccccdc;white-space:nowrap;-webkit-text-stroke:0.3px #ccccdc;letter-spacing:0.6px;left:-572.80px;width:2000px;text-align:center;">02:30</div><div style="position:absolute;top:1602.34px;font-size:25px;line-height:25px;color:#ccccdc;white-space:nowrap;-webkit-text-stroke:0.3px #ccccdc;letter-spacing:0.6px;left:-462.60px;width:2000px;text-align:center;">03:00</div><div style="position:absolute;top:1602.34px;font-size:25px;line-height:25px;color:#ccccdc;white-space:nowrap;-webkit-text-stroke:0.3px #ccccdc;letter-spacing:0.6px;left:-352.40px;width:2000px;text-align:center;">03:30</div><div style="position:absolute;top:1602.34px;font-size:25px;line-height:25px;color:#ccccdc;white-space:nowrap;-webkit-text-stroke:0.3px #ccccdc;letter-spacing:0.6px;left:-242.20px;width:2000px;text-align:center;">04:00</div><div style="position:absolute;top:1602.34px;font-size:25px;line-height:25px;color:#ccccdc;white-space:nowrap;-webkit-text-stroke:0.3px #ccccdc;letter-spacing:0.6px;left:-132.00px;width:2000px;text-align:center;">04:30</div><div style="position:absolute;top:1602.34px;font-size:25px;line-height:25px;color:#ccccdc;white-space:nowrap;-webkit-text-stroke:0.3px #ccccdc;letter-spacing:0.6px;left:-21.80px;width:2000px;text-align:center;">05:00</div><div style="position:absolute;top:1602.34px;font-size:25px;line-height:25px;color:#ccccdc;white-space:nowrap;-webkit-text-stroke:0.3px #ccccdc;letter-spacing:0.6px;left:88.40px;width:2000px;text-align:center;">05:30</div><div style="position:absolute;top:1602.34px;font-size:25px;line-height:25px;color:#ccccdc;white-space:nowrap;-webkit-text-stroke:0.3px #ccccdc;letter-spacing:0.6px;left:198.60px;width:2000px;text-align:center;">06:00</div><div style="position:absolute;top:1602.34px;font-size:25px;line-height:25px;color:#ccccdc;white-space:nowrap;-webkit-text-stroke:0.3px #ccccdc;letter-spacing:0.6px;left:308.80px;width:2000px;text-align:center;">06:30</div><div style="position:absolute;top:1602.34px;font-size:25px;line-height:25px;color:#ccccdc;white-space:nowrap;-webkit-text-stroke:0.3px #ccccdc;letter-spacing:0.6px;left:419.00px;width:2000px;text-align:center;">07:00</div><div style="position:absolute;left:58px;top:1652px;width:28px;height:8px;background:#7eb26d;box-sizing:border-box;border-radius:4px;"></div><div style="position:absolute;top:1644.46px;font-size:24.5px;line-height:24.5px;color:#ccccdc;white-space:nowrap;-webkit-text-stroke:0.35px #ccccdc;letter-spacing:0.7px;left:100.20px;">recv br-884f073373ae</div><div style="position:absolute;left:385px;top:1652px;width:28px;height:8px;background:#eccc3c;box-sizing:border-box;border-radius:4px;"></div><div style="position:absolute;top:1644.46px;font-size:24.5px;line-height:24.5px;color:#ccccdc;white-space:nowrap;-webkit-text-stroke:0.35px #ccccdc;letter-spacing:0.7px;left:427.70px;">recv docker0</div><div style="position:absolute;left:601px;top:1652px;width:28px;height:8px;background:#8ab8ff;box-sizing:border-box;border-radius:4px;"></div><div style="position:absolute;top:1644.46px;font-size:24.5px;line-height:24.5px;color:#ccccdc;white-space:nowrap;-webkit-text-stroke:0.35px #ccccdc;letter-spacing:0.7px;left:643.70px;">recv eth0</div><div style="position:absolute;left:776px;top:1652px;width:28px;height:8px;background:#f08a3a;box-sizing:border-box;border-radius:4px;"></div><div style="position:absolute;top:1644.46px;font-size:24.5px;line-height:24.5px;color:#ccccdc;white-space:nowrap;-webkit-text-stroke:0.35px #ccccdc;letter-spacing:0.7px;left:817.70px;">recv lo</div><div style="position:absolute;left:918px;top:1652px;width:28px;height:8px;background:#e24d58;box-sizing:border-box;border-radius:4px;"></div><div style="position:absolute;top:1644.46px;font-size:24.5px;line-height:24.5px;color:#ccccdc;white-space:nowrap;-webkit-text-stroke:0.35px #ccccdc;letter-spacing:0.7px;left:959.70px;">recv vethdc67fc2</div><div style="position:absolute;left:1185px;top:1652px;width:28px;height:8px;background:#5794f2;box-sizing:border-box;border-radius:4px;"></div><div style="position:absolute;top:1644.46px;font-size:24.5px;line-height:24.5px;color:#ccccdc;white-space:nowrap;-webkit-text-stroke:0.35px #ccccdc;letter-spacing:0.7px;left:1226.70px;">recv wlan0</div><div style="position:absolute;left:1520px;top:1254px;width:1472px;height:516px;background:#1b1c20;box-sizing:border-box;border:2px solid #303136;border-radius:4px;"></div><div style="position:absolute;top:1274.45px;font-size:29px;line-height:29px;color:#ccccdc;white-space:nowrap;-webkit-text-stroke:0.9px #ccccdc;letter-spacing:0.45px;left:1536.80px;">Disk Space Used Basic</div><svg style="position:absolute;left:1884px;top:1275px;" width="27" height="27" viewBox="0 0 27 27"><circle cx="13.5" cy="13.5" r="12" fill="none" stroke="#9a9ba3" stroke-width="2.3"/><circle cx="13.5" cy="9" r="1.6" fill="#9a9ba3"/><line x1="13.5" y1="12.8" x2="13.5" y2="18.6" stroke="#9a9ba3" stroke-width="2.6" stroke-linecap="round"/></svg><svg style="position:absolute;left:1600px;top:1340px;" width="1361.6" height="240" viewBox="0 0 1361.6 240"><line x1="18" y1="11.799999999999955" x2="1357.6" y2="11.799999999999955" stroke="rgba(204,204,220,0.085)" stroke-width="2"/><line x1="18" y1="118.29999999999995" x2="1357.6" y2="118.29999999999995" stroke="rgba(204,204,220,0.085)" stroke-width="2"/><rect x="18" y="125" width="1339.6" height="6" fill="#3d5236"/><rect x="18" y="130" width="1339.6" height="75" fill="#b08939"/><rect x="18" y="204" width="1339.6" height="16" fill="#c46e46"/><rect x="18" y="220" width="1339.6" height="5" fill="#b7843a"/><line x1="77.3" y1="12" x2="77.3" y2="232" stroke="rgba(204,204,220,0.085)" stroke-width="2"/><line x1="189.0" y1="12" x2="189.0" y2="232" stroke="rgba(204,204,220,0.085)" stroke-width="2"/><line x1="300.7" y1="12" x2="300.7" y2="232" stroke="rgba(204,204,220,0.085)" stroke-width="2"/><line x1="412.4" y1="12" x2="412.4" y2="232" stroke="rgba(204,204,220,0.085)" stroke-width="2"/><line x1="524.1" y1="12" x2="524.1" y2="232" stroke="rgba(204,204,220,0.085)" stroke-width="2"/><line x1="635.8" y1="12" x2="635.8" y2="232" stroke="rgba(204,204,220,0.085)" stroke-width="2"/><line x1="747.5" y1="12" x2="747.5" y2="232" stroke="rgba(204,204,220,0.085)" stroke-width="2"/><line x1="859.2" y1="12" x2="859.2" y2="232" stroke="rgba(204,204,220,0.085)" stroke-width="2"/><line x1="970.9" y1="12" x2="970.9" y2="232" stroke="rgba(204,204,220,0.085)" stroke-width="2"/><line x1="1082.6" y1="12" x2="1082.6" y2="232" stroke="rgba(204,204,220,0.085)" stroke-width="2"/><line x1="1194.3" y1="12" x2="1194.3" y2="232" stroke="rgba(204,204,220,0.085)" stroke-width="2"/><line x1="1306.0" y1="12" x2="1306.0" y2="232" stroke="rgba(204,204,220,0.085)" stroke-width="2"/><line x1="18" y1="124.5" x2="1357.6" y2="124.5" stroke="#86c17a" stroke-width="2.5"/><line x1="18" y1="130.5" x2="1357.6" y2="130.5" stroke="#f08a3a" stroke-width="2.5"/><line x1="18" y1="204.5" x2="1357.6" y2="204.5" stroke="#e24d58" stroke-width="2.5"/><line x1="18" y1="220" x2="1357.6" y2="220" stroke="#f2cc3c" stroke-width="2.5"/><line x1="18" y1="223.5" x2="1357.6" y2="223.5" stroke="#e0852e" stroke-width="2"/><circle cx="535" cy="130" r="4" fill="#8ab8ff" opacity="0.8"/></svg><div style="position:absolute;top:1338.14px;font-size:25px;line-height:25px;color:#ccccdc;white-space:nowrap;-webkit-text-stroke:0.3px #ccccdc;letter-spacing:0.6px;right:1413.40px;">100%</div><div style="position:absolute;top:1444.64px;font-size:25px;line-height:25px;color:#ccccdc;white-space:nowrap;-webkit-text-stroke:0.3px #ccccdc;letter-spacing:0.6px;right:1413.40px;">50%</div><div style="position:absolute;top:1550.84px;font-size:25px;line-height:25px;color:#ccccdc;white-space:nowrap;-webkit-text-stroke:0.3px #ccccdc;letter-spacing:0.6px;right:1413.40px;">0%</div><div style="position:absolute;top:1578.84px;font-size:25px;line-height:25px;color:#ccccdc;white-space:nowrap;-webkit-text-stroke:0.3px #ccccdc;letter-spacing:0.6px;left:677.60px;width:2000px;text-align:center;">01:30</div><div style="position:absolute;top:1578.84px;font-size:25px;line-height:25px;color:#ccccdc;white-space:nowrap;-webkit-text-stroke:0.3px #ccccdc;letter-spacing:0.6px;left:789.30px;width:2000px;text-align:center;">02:00</div><div style="position:absolute;top:1578.84px;font-size:25px;line-height:25px;color:#ccccdc;white-space:nowrap;-webkit-text-stroke:0.3px #ccccdc;letter-spacing:0.6px;left:901.00px;width:2000px;text-align:center;">02:30</div><div style="position:absolute;top:1578.84px;font-size:25px;line-height:25px;color:#ccccdc;white-space:nowrap;-webkit-text-stroke:0.3px #ccccdc;letter-spacing:0.6px;left:1012.70px;width:2000px;text-align:center;">03:00</div><div style="position:absolute;top:1578.84px;font-size:25px;line-height:25px;color:#ccccdc;white-space:nowrap;-webkit-text-stroke:0.3px #ccccdc;letter-spacing:0.6px;left:1124.40px;width:2000px;text-align:center;">03:30</div><div style="position:absolute;top:1578.84px;font-size:25px;line-height:25px;color:#ccccdc;white-space:nowrap;-webkit-text-stroke:0.3px #ccccdc;letter-spacing:0.6px;left:1236.10px;width:2000px;text-align:center;">04:00</div><div style="position:absolute;top:1578.84px;font-size:25px;line-height:25px;color:#ccccdc;white-space:nowrap;-webkit-text-stroke:0.3px #ccccdc;letter-spacing:0.6px;left:1347.80px;width:2000px;text-align:center;">04:30</div><div style="position:absolute;top:1578.84px;font-size:25px;line-height:25px;color:#ccccdc;white-space:nowrap;-webkit-text-stroke:0.3px #ccccdc;letter-spacing:0.6px;left:1459.50px;width:2000px;text-align:center;">05:00</div><div style="position:absolute;top:1578.84px;font-size:25px;line-height:25px;color:#ccccdc;white-space:nowrap;-webkit-text-stroke:0.3px #ccccdc;letter-spacing:0.6px;left:1571.20px;width:2000px;text-align:center;">05:30</div><div style="position:absolute;top:1578.84px;font-size:25px;line-height:25px;color:#ccccdc;white-space:nowrap;-webkit-text-stroke:0.3px #ccccdc;letter-spacing:0.6px;left:1682.90px;width:2000px;text-align:center;">06:00</div><div style="position:absolute;top:1578.84px;font-size:25px;line-height:25px;color:#ccccdc;white-space:nowrap;-webkit-text-stroke:0.3px #ccccdc;letter-spacing:0.6px;left:1794.60px;width:2000px;text-align:center;">06:30</div><div style="position:absolute;top:1578.84px;font-size:25px;line-height:25px;color:#ccccdc;white-space:nowrap;-webkit-text-stroke:0.3px #ccccdc;letter-spacing:0.6px;left:1906.30px;width:2000px;text-align:center;">07:00</div><div style="position:absolute;left:1546px;top:1631px;width:28px;height:8px;background:#7eb26d;box-sizing:border-box;border-radius:4px;"></div><div style="position:absolute;top:1624.46px;font-size:24.5px;line-height:24.5px;color:#ccccdc;white-space:nowrap;-webkit-text-stroke:0.35px #ccccdc;letter-spacing:0.7px;left:1587.70px;">/boot/firmware</div><div style="position:absolute;left:1783px;top:1631px;width:28px;height:8px;background:#eccc3c;box-sizing:border-box;border-radius:4px;"></div><div style="position:absolute;top:1624.46px;font-size:24.5px;line-height:24.5px;color:#ccccdc;white-space:nowrap;-webkit-text-stroke:0.35px #ccccdc;letter-spacing:0.7px;left:1824.70px;">/</div><div style="position:absolute;top:1667.34px;font-size:25px;line-height:25px;color:#ccccdc;white-space:nowrap;-webkit-text-stroke:0.3px #ccccdc;letter-spacing:0.6px;left:1591.00px;">/run/docker/runtime-runc/moby/f05f000e4e8775996c1a9a815d4ff7196c9ae09b9a7343cfff3a1498cc72ef4ff/rootfs/var/lib/docker</div>
<div style="position:absolute;left:0;top:0;width:2px;height:1672px;background:#4a4c52"></div>
</body></html>
